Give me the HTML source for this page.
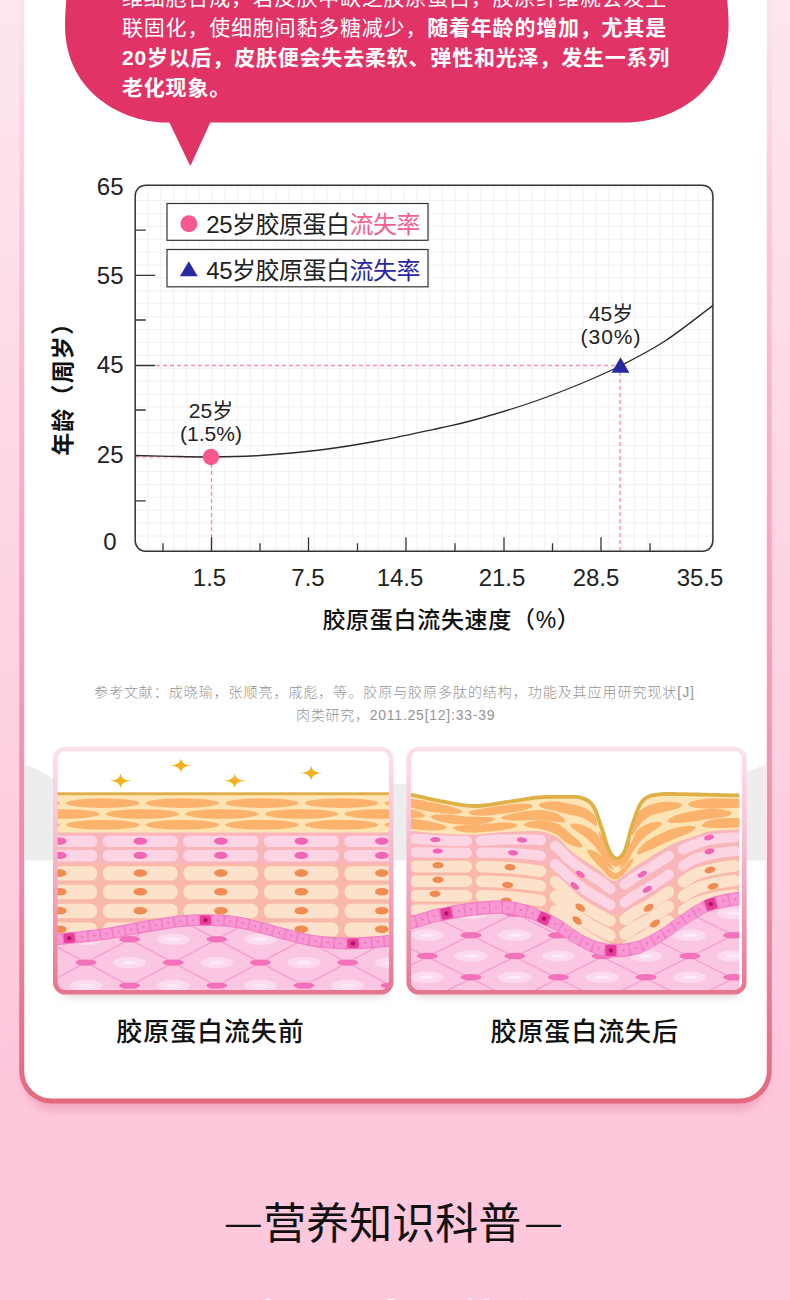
<!DOCTYPE html>
<html lang="zh-CN"><head><meta charset="utf-8"><title>胶原蛋白流失</title>
<style>
html,body{margin:0;padding:0}
body{width:790px;height:1300px;overflow:hidden;background:#fdc7dc;font-family:"Liberation Sans","Noto Sans CJK SC",sans-serif}
svg{display:block;font-family:"Liberation Sans","Noto Sans CJK SC",sans-serif}
text{font-family:"Liberation Sans","Noto Sans CJK SC",sans-serif}
</style></head><body>
<svg width="790" height="1300" viewBox="0 0 790 1300">
<defs>
<linearGradient id="bg" x1="0" y1="0" x2="0" y2="1300" gradientUnits="userSpaceOnUse">
<stop offset="0" stop-color="#fde6ef"/><stop offset="0.2" stop-color="#fddfe9"/><stop offset="0.41" stop-color="#fdd5e3"/><stop offset="0.846" stop-color="#fdc7dc"/><stop offset="1" stop-color="#fdc7dc"/>
</linearGradient>
<linearGradient id="bd" x1="0" y1="0" x2="0" y2="1103" gradientUnits="userSpaceOnUse">
<stop offset="0" stop-color="#fde3ed"/><stop offset="0.235" stop-color="#fcc3d6"/><stop offset="0.48" stop-color="#f9a8c0"/><stop offset="0.8" stop-color="#ee8aa4"/><stop offset="1" stop-color="#e4697f"/>
</linearGradient>
<pattern id="grid" x="134.700" y="187.200" width="12.8" height="12.9" patternUnits="userSpaceOnUse">
<path d="M0 0.5H12.8M0.5 0V12.9" stroke="#f2f0f2" stroke-width="1" fill="none"/>
</pattern>
<filter id="sh" x="-5%" y="-5%" width="110%" height="110%"><feGaussianBlur stdDeviation="4"/></filter>
<clipPath id="plot"><rect x="135.200" y="185.200" width="577.700" height="366.100" rx="10.5"/></clipPath>
</defs>
<rect width="790" height="1300" fill="url(#bg)"/>

<path d="M24 1000V1075A30 30 0 0 0 54 1105H737A30 30 0 0 0 767 1075V1000Z" fill="#e88aa4" opacity="0.55" filter="url(#sh)" transform="translate(0,5)"/>
<path d="M21.7 -10V1071A30 30 0 0 0 51.7 1101H739.3A30 30 0 0 0 769.3 1071V-10Z" fill="#fff" stroke="url(#bd)" stroke-width="5"/>
<path d="M24.5 765C36 767 50 777 62 784.200H728C740 777 754 767 766 765V860.600H24.5Z" fill="#ededed"/>
<path d="M67 -10C66 5 65 15 65 25C65 95 126 122.5 166 122.5H169.4L189.5 164.5Q190.3 166.3 191.1 164.5L210.3 122.5H625C669 122.5 728.6 95 728.6 25C728.6 15 727.5 5 726.6 -10Z" fill="#e23367"/>
<text x="122" y="5" font-size="21" fill="#fff" letter-spacing="0.8"><tspan font-weight="400">维细胞合成，若皮肤中缺乏胶原蛋白，胶原纤维就会发生</tspan></text>
<text x="122" y="35" font-size="21" fill="#fff" letter-spacing="0.8"><tspan font-weight="400">联固化，使细胞间黏多糖减少，</tspan><tspan font-weight="700">随着年龄的增加，尤其是</tspan></text>
<text x="122" y="65" font-size="21" fill="#fff" letter-spacing="0.8"><tspan font-weight="700">20岁以后，皮肤便会失去柔软、弹性和光泽，发生一系列</tspan></text>
<text x="122" y="95" font-size="21" fill="#fff" letter-spacing="0.8"><tspan font-weight="700">老化现象。</tspan></text>
<rect x="135.200" y="185.200" width="577.700" height="366.100" rx="10.5" fill="#fff"/>
<rect x="135.200" y="185.200" width="577.700" height="366.100" rx="10.5" fill="url(#grid)"/>
<path d="M135.500 456.800H211M156 365.500H620M211.500 457V551M620 365V551" stroke="#f58bb0" stroke-width="1.3" stroke-dasharray="4 3" fill="none"/>
<path d="M135.2 230.2H145.7M135.2 275.3H155.2M135.2 320H145.7M135.2 365.5H155.2M135.2 410H145.7M135.2 500.8H145.7M163 551.3V543.3M211.5 551.3V537.3M260 551.3V543.3M308.5 551.3V537.3M357.5 551.3V543.3M406 551.3V537.3M455 551.3V543.3M504 551.3V537.3M552.5 551.3V543.3M601 551.3V537.3M650 551.3V543.3" stroke="#333" stroke-width="1.3" fill="none"/>
<path d="M135.5 455.5C141.2 455.6 157.4 456.1 170 456.3C182.6 456.6 196.0 457.1 211 457C226.0 456.9 241.8 456.7 260 455.5C278.2 454.3 300.0 452.5 320 450C340.0 447.5 360.0 444.2 380 440.5C400.0 436.8 424.3 431.4 440 428C455.7 424.6 459.0 424.2 474 420C489.0 415.8 512.3 409.0 530 403C547.7 397.0 565.0 390.2 580 384C595.0 377.8 605.8 373.2 620 366C634.2 358.8 649.4 351.2 665 341C680.6 330.8 705.4 311.0 713.5 305" stroke="#2a2a2a" stroke-width="1.3" fill="none" clip-path="url(#plot)"/>
<rect x="135.200" y="185.200" width="577.700" height="366.100" rx="10.5" fill="none" stroke="#333" stroke-width="1.5"/>
<circle cx="211" cy="457" r="8.2" fill="#f8588c"/>
<path d="M620.500 357.300L629.400 372.800H611.600Z" fill="#2a27a3"/>
<rect x="167" y="203.500" width="261" height="36.800" fill="#fff" stroke="#333" stroke-width="1.2"/>
<rect x="167" y="249.500" width="261" height="37.300" fill="#fff" stroke="#333" stroke-width="1.2"/>
<circle cx="188.900" cy="223.700" r="8.5" fill="#f8588c"/>
<path d="M188.800 261.300L197.700 276.300H179.900Z" fill="#2a27a3"/>
<text x="206.300" y="233" font-size="24" fill="#222" letter-spacing="-0.5">25岁胶原蛋白<tspan fill="#f3608f">流失率</tspan></text>
<text x="206.300" y="278.500" font-size="24" fill="#222" letter-spacing="-0.5">45岁胶原蛋白<tspan fill="#2a27a3">流失率</tspan></text>
<text x="123.5" y="195" font-size="24" fill="#222" text-anchor="end">65</text>
<text x="123.5" y="284" font-size="24" fill="#222" text-anchor="end">55</text>
<text x="123.5" y="373" font-size="24" fill="#222" text-anchor="end">45</text>
<text x="123.5" y="463" font-size="24" fill="#222" text-anchor="end">25</text>
<text x="116.5" y="550" font-size="24" fill="#222" text-anchor="end">0</text>
<text x="209.5" y="586" font-size="24" fill="#222" text-anchor="middle">1.5</text>
<text x="308" y="586" font-size="24" fill="#222" text-anchor="middle">7.5</text>
<text x="400" y="586" font-size="24" fill="#222" text-anchor="middle">14.5</text>
<text x="502" y="586" font-size="24" fill="#222" text-anchor="middle">21.5</text>
<text x="596" y="586" font-size="24" fill="#222" text-anchor="middle">28.5</text>
<text x="700" y="586" font-size="24" fill="#222" text-anchor="middle">35.5</text>
<text x="211" y="418" font-size="21" fill="#222" text-anchor="middle">25岁</text>
<text x="211" y="441" font-size="21" fill="#222" text-anchor="middle">(1.5%)</text>
<text x="611" y="321" font-size="21" fill="#222" text-anchor="middle">45岁</text>
<text x="611" y="344" font-size="21" fill="#222" text-anchor="middle" letter-spacing="1">(30%)</text>
<text transform="translate(71.300,455.800) rotate(-90)" font-size="23" font-weight="700" fill="#111" letter-spacing="1.15">年龄（周岁）</text>
<text x="451.500" y="628" font-size="23" font-weight="500" letter-spacing="0.7" fill="#111" text-anchor="middle">胶原蛋白流失速度（%）</text>
<text x="94" y="697" font-size="14" font-weight="300" fill="#949494" textLength="600" lengthAdjust="spacing">参考文献：成晓瑜，张顺亮，戚彪，等。胶原与胶原多肽的结构，功能及其应用研究现状[J]</text>
<text x="296" y="719.500" font-size="14" font-weight="300" fill="#949494" textLength="198.500" lengthAdjust="spacing">肉类研究，2011.25[12]:33-39</text>
<defs><linearGradient id="pf" x1="0" y1="746" x2="0" y2="995" gradientUnits="userSpaceOnUse"><stop offset="0" stop-color="#fde2eb"/><stop offset="0.3" stop-color="#fbc4d6"/><stop offset="0.65" stop-color="#f29db4"/><stop offset="1" stop-color="#e5758f"/></linearGradient><filter id="sh2" x="-10%" y="-100%" width="120%" height="400%"><feGaussianBlur stdDeviation="4"/></filter></defs>
<rect x="62" y="985" width="324" height="12" rx="6" fill="#b9a0a8" opacity="0.45" filter="url(#sh2)"/><rect x="415" y="985" width="324" height="12" rx="6" fill="#b9a0a8" opacity="0.45" filter="url(#sh2)"/>
<clipPath id="c1"><rect x="55.3" y="749" width="335.9" height="242.5" rx="8"/></clipPath>
<g clip-path="url(#c1)">
<rect x="55.3" y="749" width="335.9" height="242.5" fill="#fff"/>
<path d="M120.6 773.5Q121.3 780.4 132.1 780.8Q121.3 781.2 120.6 788.1Q119.9 781.2 109.1 780.8Q119.9 780.4 120.6 773.5Z" fill="#f2b11f"/>
<path d="M180.9 758.3Q181.6 765.2 192.4 765.6Q181.6 766 180.9 772.9Q180.2 766 169.4 765.6Q180.2 765.2 180.9 758.3Z" fill="#f2b11f"/>
<path d="M234.7 773.5Q235.4 780.4 246.2 780.8Q235.4 781.2 234.7 788.1Q234 781.2 223.2 780.8Q234 780.4 234.7 773.5Z" fill="#f2b11f"/>
<path d="M311.2 765.7Q311.9 772.6 322.7 773Q311.9 773.4 311.2 780.3Q310.5 773.4 299.7 773Q310.5 772.6 311.2 765.7Z" fill="#f2b11f"/>
<rect x="55.3" y="794" width="335.9" height="40" fill="#fde4b4"/>
<rect x="55.3" y="792.3" width="335.9" height="2.9" fill="#e0b048"/>
<g fill="#fbb26c"><ellipse cx="23.2" cy="803.1" rx="36.9" ry="4.8"/><ellipse cx="102.8" cy="803.1" rx="36.9" ry="4.8"/><ellipse cx="182.4" cy="803.1" rx="36.9" ry="4.8"/><ellipse cx="262" cy="803.1" rx="36.9" ry="4.8"/><ellipse cx="341.6" cy="803.1" rx="36.9" ry="4.8"/><ellipse cx="421.2" cy="803.1" rx="36.9" ry="4.8"/><ellipse cx="62.8" cy="814" rx="36.9" ry="4.8"/><ellipse cx="142.4" cy="814" rx="36.9" ry="4.8"/><ellipse cx="222" cy="814" rx="36.9" ry="4.8"/><ellipse cx="301.6" cy="814" rx="36.9" ry="4.8"/><ellipse cx="381.2" cy="814" rx="36.9" ry="4.8"/><ellipse cx="460.8" cy="814" rx="36.9" ry="4.8"/><ellipse cx="23.2" cy="824.8" rx="36.9" ry="4.8"/><ellipse cx="102.8" cy="824.8" rx="36.9" ry="4.8"/><ellipse cx="182.4" cy="824.8" rx="36.9" ry="4.8"/><ellipse cx="262" cy="824.8" rx="36.9" ry="4.8"/><ellipse cx="341.6" cy="824.8" rx="36.9" ry="4.8"/><ellipse cx="421.2" cy="824.8" rx="36.9" ry="4.8"/></g>
<rect x="55.3" y="832.5" width="335.9" height="32" fill="#f9b6ba"/>
<g fill="#fdd4e4"><rect x="22.2" y="835.7" width="75.200" height="11.400" rx="5.5"/><rect x="102.7" y="835.7" width="75.200" height="11.400" rx="5.5"/><rect x="183.2" y="835.7" width="75.200" height="11.400" rx="5.5"/><rect x="263.7" y="835.7" width="75.200" height="11.400" rx="5.5"/><rect x="344.2" y="835.7" width="75.200" height="11.400" rx="5.5"/><rect x="424.7" y="835.7" width="75.200" height="11.400" rx="5.5"/><rect x="22.2" y="850" width="75.200" height="11.400" rx="5.5"/><rect x="102.7" y="850" width="75.200" height="11.400" rx="5.5"/><rect x="183.2" y="850" width="75.200" height="11.400" rx="5.5"/><rect x="263.7" y="850" width="75.200" height="11.400" rx="5.5"/><rect x="344.2" y="850" width="75.200" height="11.400" rx="5.5"/><rect x="424.7" y="850" width="75.200" height="11.400" rx="5.5"/></g><g fill="#f265b4"><ellipse cx="59.8" cy="841.1" rx="6.8" ry="3.7"/><ellipse cx="140.3" cy="841.1" rx="6.8" ry="3.7"/><ellipse cx="220.8" cy="841.1" rx="6.8" ry="3.7"/><ellipse cx="301.3" cy="841.1" rx="6.8" ry="3.7"/><ellipse cx="381.8" cy="841.1" rx="6.8" ry="3.7"/><ellipse cx="462.3" cy="841.1" rx="6.8" ry="3.7"/><ellipse cx="59.8" cy="855.4" rx="6.8" ry="3.7"/><ellipse cx="140.3" cy="855.4" rx="6.8" ry="3.7"/><ellipse cx="220.8" cy="855.4" rx="6.8" ry="3.7"/><ellipse cx="301.3" cy="855.4" rx="6.8" ry="3.7"/><ellipse cx="381.8" cy="855.4" rx="6.8" ry="3.7"/><ellipse cx="462.3" cy="855.4" rx="6.8" ry="3.7"/></g>
<rect x="55.3" y="864" width="335.9" height="85" fill="#f9b9a9"/>
<g fill="#fde2cb"><rect x="22.5" y="866.2" width="74.600" height="14.400" rx="6.5"/><rect x="103" y="866.2" width="74.600" height="14.400" rx="6.5"/><rect x="183.5" y="866.2" width="74.600" height="14.400" rx="6.5"/><rect x="264" y="866.2" width="74.600" height="14.400" rx="6.5"/><rect x="344.5" y="866.2" width="74.600" height="14.400" rx="6.5"/><rect x="425" y="866.2" width="74.600" height="14.400" rx="6.5"/><rect x="22.5" y="884.8" width="74.600" height="14.400" rx="6.5"/><rect x="103" y="884.8" width="74.600" height="14.400" rx="6.5"/><rect x="183.5" y="884.8" width="74.600" height="14.400" rx="6.5"/><rect x="264" y="884.8" width="74.600" height="14.400" rx="6.5"/><rect x="344.5" y="884.8" width="74.600" height="14.400" rx="6.5"/><rect x="425" y="884.8" width="74.600" height="14.400" rx="6.5"/><rect x="22.5" y="903.8" width="74.600" height="14.400" rx="6.5"/><rect x="103" y="903.8" width="74.600" height="14.400" rx="6.5"/><rect x="183.5" y="903.8" width="74.600" height="14.400" rx="6.5"/><rect x="264" y="903.8" width="74.600" height="14.400" rx="6.5"/><rect x="344.5" y="903.8" width="74.600" height="14.400" rx="6.5"/><rect x="425" y="903.8" width="74.600" height="14.400" rx="6.5"/><rect x="22.5" y="922.4" width="74.600" height="14.400" rx="6.5"/><rect x="103" y="922.4" width="74.600" height="14.400" rx="6.5"/><rect x="183.5" y="922.4" width="74.600" height="14.400" rx="6.5"/><rect x="264" y="922.4" width="74.600" height="14.400" rx="6.5"/><rect x="344.5" y="922.4" width="74.600" height="14.400" rx="6.5"/><rect x="425" y="922.4" width="74.600" height="14.400" rx="6.5"/></g><g fill="#f08b52"><ellipse cx="59.8" cy="873.1" rx="6.8" ry="3.8"/><ellipse cx="140.3" cy="873.1" rx="6.8" ry="3.8"/><ellipse cx="220.8" cy="873.1" rx="6.8" ry="3.8"/><ellipse cx="301.3" cy="873.1" rx="6.8" ry="3.8"/><ellipse cx="381.8" cy="873.1" rx="6.8" ry="3.8"/><ellipse cx="462.3" cy="873.1" rx="6.8" ry="3.8"/><ellipse cx="59.8" cy="891.7" rx="6.8" ry="3.8"/><ellipse cx="140.3" cy="891.7" rx="6.8" ry="3.8"/><ellipse cx="220.8" cy="891.7" rx="6.8" ry="3.8"/><ellipse cx="301.3" cy="891.7" rx="6.8" ry="3.8"/><ellipse cx="381.8" cy="891.7" rx="6.8" ry="3.8"/><ellipse cx="462.3" cy="891.7" rx="6.8" ry="3.8"/><ellipse cx="59.8" cy="910.7" rx="6.8" ry="3.8"/><ellipse cx="140.3" cy="910.7" rx="6.8" ry="3.8"/><ellipse cx="220.8" cy="910.7" rx="6.8" ry="3.8"/><ellipse cx="301.3" cy="910.7" rx="6.8" ry="3.8"/><ellipse cx="381.8" cy="910.7" rx="6.8" ry="3.8"/><ellipse cx="462.3" cy="910.7" rx="6.8" ry="3.8"/><ellipse cx="59.8" cy="929.3" rx="6.8" ry="3.8"/><ellipse cx="140.3" cy="929.3" rx="6.8" ry="3.8"/><ellipse cx="220.8" cy="929.3" rx="6.8" ry="3.8"/><ellipse cx="301.3" cy="929.3" rx="6.8" ry="3.8"/><ellipse cx="381.8" cy="929.3" rx="6.8" ry="3.8"/><ellipse cx="462.3" cy="929.3" rx="6.8" ry="3.8"/></g>
<path d="M53.3 933.9L56.3 933.6L59.3 933.2L62.3 932.9L65.3 932.6L68.3 932.3L71.3 932L74.4 931.7L77.4 931.4L80.4 931.1L83.4 930.7L86.4 930.4L89.4 930.1L92.4 929.7L95.4 929.4L98.4 929L101.4 928.6L104.4 928.2L107.4 927.7L110.5 927.2L113.5 926.7L116.5 926.1L119.5 925.6L122.5 925L125.5 924.4L128.5 923.9L131.5 923.3L134.5 922.7L137.5 922.2L140.5 921.6L143.5 921.1L146.5 920.6L149.6 920.1L152.6 919.6L155.6 919.1L158.6 918.6L161.6 918.1L164.6 917.6L167.6 917.1L170.6 916.7L173.6 916.2L176.6 915.8L179.6 915.5L182.6 915.2L185.7 915L188.7 914.7L191.7 914.5L194.7 914.3L197.7 914.2L200.7 914.2L203.7 914.2L206.7 914.2L209.7 914.3L212.7 914.3L215.7 914.4L218.7 914.5L221.7 914.6L224.8 914.8L227.8 915.1L230.8 915.5L233.8 915.9L236.8 916.3L239.8 916.8L242.8 917.3L245.8 918L248.8 918.7L251.8 919.4L254.8 920.2L257.8 920.9L260.8 921.7L263.9 922.5L266.9 923.3L269.9 924.1L272.9 925L275.9 925.9L278.9 926.7L281.9 927.5L284.9 928.3L287.9 929L290.9 929.8L293.9 930.5L296.9 931.3L300 932.1L303 932.8L306 933.5L309 934.1L312 934.7L315 935.2L318 935.6L321 935.9L324 936.2L327 936.5L330 936.8L333 937L336 937.3L339.1 937.4L342.1 937.5L345.1 937.6L348.1 937.6L351.1 937.5L354.1 937.5L357.1 937.4L360.1 937.2L363.1 937.1L366.1 936.9L369.1 936.7L372.1 936.6L375.2 936.3L378.2 936L381.2 935.7L384.2 935.4L387.2 935.1L390.2 934.8L393.2 934.6L393.2 993.5L53.3 993.5Z" fill="#fbc6e1" transform="translate(0,6)"/>
<clipPath id="c1d"><path d="M53.3 933.9L56.3 933.6L59.3 933.2L62.3 932.9L65.3 932.6L68.3 932.3L71.3 932L74.4 931.7L77.4 931.4L80.4 931.1L83.4 930.7L86.4 930.4L89.4 930.1L92.4 929.7L95.4 929.4L98.4 929L101.4 928.6L104.4 928.2L107.4 927.7L110.5 927.2L113.5 926.7L116.5 926.1L119.5 925.6L122.5 925L125.5 924.4L128.5 923.9L131.5 923.3L134.5 922.7L137.5 922.2L140.5 921.6L143.5 921.1L146.5 920.6L149.6 920.1L152.6 919.6L155.6 919.1L158.6 918.6L161.6 918.1L164.6 917.6L167.6 917.1L170.6 916.7L173.6 916.2L176.6 915.8L179.6 915.5L182.6 915.2L185.7 915L188.7 914.7L191.7 914.5L194.7 914.3L197.7 914.2L200.7 914.2L203.7 914.2L206.7 914.2L209.7 914.3L212.7 914.3L215.7 914.4L218.7 914.5L221.7 914.6L224.8 914.8L227.8 915.1L230.8 915.5L233.8 915.9L236.8 916.3L239.8 916.8L242.8 917.3L245.8 918L248.8 918.7L251.8 919.4L254.8 920.2L257.8 920.9L260.8 921.7L263.9 922.5L266.9 923.3L269.9 924.1L272.9 925L275.9 925.9L278.9 926.7L281.9 927.5L284.9 928.3L287.9 929L290.9 929.8L293.9 930.5L296.9 931.3L300 932.1L303 932.8L306 933.5L309 934.1L312 934.7L315 935.2L318 935.6L321 935.9L324 936.2L327 936.5L330 936.8L333 937L336 937.3L339.1 937.4L342.1 937.5L345.1 937.6L348.1 937.6L351.1 937.5L354.1 937.5L357.1 937.4L360.1 937.2L363.1 937.1L366.1 936.9L369.1 936.7L372.1 936.6L375.2 936.3L378.2 936L381.2 935.7L384.2 935.4L387.2 935.1L390.2 934.8L393.2 934.6L393.2 993.5L53.3 993.5Z" transform="translate(0,6)"/></clipPath>
<g clip-path="url(#c1d)"><path d="M35.3 1215.1L411.2 1416M35.3 663.5L411.2 462.6M35.3 1168.5L411.2 1369.4M35.3 710.1L411.2 509.2M35.3 1121.9L411.2 1322.8M35.3 756.7L411.2 555.8M35.3 1075.3L411.2 1276.2M35.3 803.3L411.2 602.4M35.3 1028.7L411.2 1229.6M35.3 849.9L411.2 649M35.3 982.1L411.2 1183M35.3 896.5L411.2 695.6M35.3 935.5L411.2 1136.4M35.3 943.1L411.2 742.2M35.3 888.9L411.2 1089.8M35.3 989.7L411.2 788.8M35.3 842.3L411.2 1043.2M35.3 1036.3L411.2 835.4M35.3 795.7L411.2 996.6M35.3 1082.9L411.2 882M35.3 749.1L411.2 950M35.3 1129.5L411.2 928.6M35.3 702.5L411.2 903.4M35.3 1176.1L411.2 975.2M35.3 655.9L411.2 856.8M35.3 1222.7L411.2 1021.8M35.3 609.3L411.2 810.2M35.3 1269.3L411.2 1068.4M35.3 562.7L411.2 763.6M35.3 1315.9L411.2 1115M35.3 516.1L411.2 717M35.3 1362.5L411.2 1161.6" stroke="#f7a3d3" stroke-width="1.6" fill="none"/>
<ellipse cx="42.4" cy="939.3" rx="10.5" ry="3.2" fill="#f271ba"/>
<ellipse cx="86" cy="939.3" rx="16.5" ry="5.8" fill="#fcdbee"/><ellipse cx="86" cy="939.3" rx="7" ry="1.8" fill="#feebf6"/>
<ellipse cx="129.6" cy="939.3" rx="10.5" ry="3.2" fill="#f271ba"/>
<ellipse cx="173.2" cy="939.3" rx="16.5" ry="5.8" fill="#fcdbee"/><ellipse cx="173.2" cy="939.3" rx="7" ry="1.8" fill="#feebf6"/>
<ellipse cx="216.8" cy="939.3" rx="10.5" ry="3.2" fill="#f271ba"/>
<ellipse cx="260.4" cy="939.3" rx="16.5" ry="5.8" fill="#fcdbee"/><ellipse cx="260.4" cy="939.3" rx="7" ry="1.8" fill="#feebf6"/>
<ellipse cx="304" cy="939.3" rx="10.5" ry="3.2" fill="#f271ba"/>
<ellipse cx="347.6" cy="939.3" rx="16.5" ry="5.8" fill="#fcdbee"/><ellipse cx="347.6" cy="939.3" rx="7" ry="1.8" fill="#feebf6"/>
<ellipse cx="391.2" cy="939.3" rx="10.5" ry="3.2" fill="#f271ba"/>
<ellipse cx="42.4" cy="962.6" rx="16.5" ry="5.8" fill="#fcdbee"/><ellipse cx="42.4" cy="962.6" rx="7" ry="1.8" fill="#feebf6"/>
<ellipse cx="86" cy="962.6" rx="10.5" ry="3.2" fill="#f271ba"/>
<ellipse cx="129.6" cy="962.6" rx="16.5" ry="5.8" fill="#fcdbee"/><ellipse cx="129.6" cy="962.6" rx="7" ry="1.8" fill="#feebf6"/>
<ellipse cx="173.2" cy="962.6" rx="10.5" ry="3.2" fill="#f271ba"/>
<ellipse cx="216.8" cy="962.6" rx="16.5" ry="5.8" fill="#fcdbee"/><ellipse cx="216.8" cy="962.6" rx="7" ry="1.8" fill="#feebf6"/>
<ellipse cx="260.4" cy="962.6" rx="10.5" ry="3.2" fill="#f271ba"/>
<ellipse cx="304" cy="962.6" rx="16.5" ry="5.8" fill="#fcdbee"/><ellipse cx="304" cy="962.6" rx="7" ry="1.8" fill="#feebf6"/>
<ellipse cx="347.6" cy="962.6" rx="10.5" ry="3.2" fill="#f271ba"/>
<ellipse cx="391.2" cy="962.6" rx="16.5" ry="5.8" fill="#fcdbee"/><ellipse cx="391.2" cy="962.6" rx="7" ry="1.8" fill="#feebf6"/>
<ellipse cx="42.4" cy="985.6" rx="10.5" ry="3.2" fill="#f271ba"/>
<ellipse cx="86" cy="985.6" rx="16.5" ry="5.8" fill="#fcdbee"/><ellipse cx="86" cy="985.6" rx="7" ry="1.8" fill="#feebf6"/>
<ellipse cx="129.6" cy="985.6" rx="10.5" ry="3.2" fill="#f271ba"/>
<ellipse cx="173.2" cy="985.6" rx="16.5" ry="5.8" fill="#fcdbee"/><ellipse cx="173.2" cy="985.6" rx="7" ry="1.8" fill="#feebf6"/>
<ellipse cx="216.8" cy="985.6" rx="10.5" ry="3.2" fill="#f271ba"/>
<ellipse cx="260.4" cy="985.6" rx="16.5" ry="5.8" fill="#fcdbee"/><ellipse cx="260.4" cy="985.6" rx="7" ry="1.8" fill="#feebf6"/>
<ellipse cx="304" cy="985.6" rx="10.5" ry="3.2" fill="#f271ba"/>
<ellipse cx="347.6" cy="985.6" rx="16.5" ry="5.8" fill="#fcdbee"/><ellipse cx="347.6" cy="985.6" rx="7" ry="1.8" fill="#feebf6"/>
<ellipse cx="391.2" cy="985.6" rx="10.5" ry="3.2" fill="#f271ba"/></g>
<path d="M53.3 933.9L56.3 933.6L59.3 933.2L62.3 932.9L65.3 932.6L68.3 932.3L71.3 932L74.4 931.7L77.4 931.4L80.4 931.1L83.4 930.7L86.4 930.4L89.4 930.1L92.4 929.7L95.4 929.4L98.4 929L101.4 928.6L104.4 928.2L107.4 927.7L110.5 927.2L113.5 926.7L116.5 926.1L119.5 925.6L122.5 925L125.5 924.4L128.5 923.9L131.5 923.3L134.5 922.7L137.5 922.2L140.5 921.6L143.5 921.1L146.5 920.6L149.6 920.1L152.6 919.6L155.6 919.1L158.6 918.6L161.6 918.1L164.6 917.6L167.6 917.1L170.6 916.7L173.6 916.2L176.6 915.8L179.6 915.5L182.6 915.2L185.7 915L188.7 914.7L191.7 914.5L194.7 914.3L197.7 914.2L200.7 914.2L203.7 914.2L206.7 914.2L209.7 914.3L212.7 914.3L215.7 914.4L218.7 914.5L221.7 914.6L224.8 914.8L227.8 915.1L230.8 915.5L233.8 915.9L236.8 916.3L239.8 916.8L242.8 917.3L245.8 918L248.8 918.7L251.8 919.4L254.8 920.2L257.8 920.9L260.8 921.7L263.9 922.5L266.9 923.3L269.9 924.1L272.9 925L275.9 925.9L278.9 926.7L281.9 927.5L284.9 928.3L287.9 929L290.9 929.8L293.9 930.5L296.9 931.3L300 932.1L303 932.8L306 933.5L309 934.1L312 934.7L315 935.2L318 935.6L321 935.9L324 936.2L327 936.5L330 936.8L333 937L336 937.3L339.1 937.4L342.1 937.5L345.1 937.6L348.1 937.6L351.1 937.5L354.1 937.5L357.1 937.4L360.1 937.2L363.1 937.1L366.1 936.9L369.1 936.7L372.1 936.6L375.2 936.3L378.2 936L381.2 935.7L384.2 935.4L387.2 935.1L390.2 934.8L393.2 934.6L393.2 946.4L390.2 946.6L387.2 946.9L384.2 947.2L381.2 947.5L378.2 947.8L375.2 948.1L372.1 948.4L369.1 948.5L366.1 948.7L363.1 948.9L360.1 949L357.1 949.2L354.1 949.3L351.1 949.3L348.1 949.4L345.1 949.4L342.1 949.3L339.1 949.2L336 949.1L333 948.8L330 948.6L327 948.3L324 948L321 947.7L318 947.4L315 947L312 946.5L309 945.9L306 945.3L303 944.6L300 943.9L296.9 943.1L293.9 942.3L290.9 941.6L287.9 940.8L284.9 940.1L281.9 939.3L278.9 938.5L275.9 937.7L272.9 936.8L269.9 935.9L266.9 935.1L263.9 934.3L260.8 933.5L257.8 932.7L254.8 932L251.8 931.2L248.8 930.5L245.8 929.8L242.8 929.1L239.8 928.6L236.8 928.1L233.8 927.7L230.8 927.3L227.8 926.9L224.8 926.6L221.7 926.4L218.7 926.3L215.7 926.2L212.7 926.1L209.7 926.1L206.7 926L203.7 926L200.7 926L197.7 926L194.7 926.1L191.7 926.3L188.7 926.5L185.7 926.8L182.6 927L179.6 927.3L176.6 927.6L173.6 928L170.6 928.5L167.6 928.9L164.6 929.4L161.6 929.9L158.6 930.4L155.6 930.9L152.6 931.4L149.6 931.9L146.5 932.4L143.5 932.9L140.5 933.4L137.5 934L134.5 934.5L131.5 935.1L128.5 935.7L125.5 936.2L122.5 936.8L119.5 937.4L116.5 937.9L113.5 938.5L110.5 939L107.4 939.5L104.4 940L101.4 940.4L98.4 940.8L95.4 941.2L92.4 941.5L89.4 941.9L86.4 942.2L83.4 942.5L80.4 942.9L77.4 943.2L74.4 943.5L71.3 943.8L68.3 944.1L65.3 944.4L62.3 944.7L59.3 945L56.3 945.4L53.3 945.7Z" fill="#f27fc4"/>
<rect x="-5.5" y="-4.7" width="10.9" height="9.4" rx="1.5" fill="#f798d4" transform="translate(44.5,940.9) rotate(-6.9)"/>
<circle cx="44.5" cy="940.9" r="1.1" fill="#f271ba"/>
<rect x="-5.5" y="-4.7" width="10.9" height="9.4" rx="1.5" fill="#f798d4" transform="translate(56.9,939.4) rotate(-6.5)"/>
<circle cx="56.9" cy="939.4" r="1.1" fill="#f271ba"/>
<rect x="-5.5" y="-4.7" width="10.9" height="9.4" rx="1.5" fill="#e63e98" transform="translate(69.3,938.1) rotate(-5.8)"/>
<circle cx="69.3" cy="938.1" r="2.2" fill="#b5106c"/>
<rect x="-5.5" y="-4.7" width="10.9" height="9.4" rx="1.5" fill="#f798d4" transform="translate(81.8,936.8) rotate(-5.9)"/>
<circle cx="81.8" cy="936.8" r="1.1" fill="#f271ba"/>
<rect x="-5.5" y="-4.7" width="10.9" height="9.4" rx="1.5" fill="#f798d4" transform="translate(94.2,935.4) rotate(-6.9)"/>
<circle cx="94.2" cy="935.4" r="1.1" fill="#f271ba"/>
<rect x="-5.5" y="-4.7" width="10.9" height="9.4" rx="1.5" fill="#f798d4" transform="translate(106.6,933.7) rotate(-9)"/>
<circle cx="106.6" cy="933.7" r="1.1" fill="#f271ba"/>
<rect x="-5.5" y="-4.7" width="10.9" height="9.4" rx="1.5" fill="#f798d4" transform="translate(118.9,931.6) rotate(-10.5)"/>
<circle cx="118.9" cy="931.6" r="1.1" fill="#f271ba"/>
<rect x="-5.5" y="-4.7" width="10.9" height="9.4" rx="1.5" fill="#f798d4" transform="translate(131.2,929.3) rotate(-10.8)"/>
<circle cx="131.2" cy="929.3" r="1.1" fill="#f271ba"/>
<rect x="-5.5" y="-4.7" width="10.9" height="9.4" rx="1.5" fill="#f798d4" transform="translate(143.5,927) rotate(-9.9)"/>
<circle cx="143.5" cy="927" r="1.1" fill="#f271ba"/>
<rect x="-5.5" y="-4.7" width="10.9" height="9.4" rx="1.5" fill="#f798d4" transform="translate(155.8,925) rotate(-9.4)"/>
<circle cx="155.8" cy="925" r="1.1" fill="#f271ba"/>
<rect x="-5.5" y="-4.7" width="10.9" height="9.4" rx="1.5" fill="#f798d4" transform="translate(168.1,922.9) rotate(-8.8)"/>
<circle cx="168.1" cy="922.9" r="1.1" fill="#f271ba"/>
<rect x="-5.5" y="-4.7" width="10.9" height="9.4" rx="1.5" fill="#f798d4" transform="translate(180.5,921.3) rotate(-5.8)"/>
<circle cx="180.5" cy="921.3" r="1.1" fill="#f271ba"/>
<rect x="-5.5" y="-4.7" width="10.9" height="9.4" rx="1.5" fill="#f798d4" transform="translate(193,920.3) rotate(-3.4)"/>
<circle cx="193" cy="920.3" r="1.1" fill="#f271ba"/>
<rect x="-5.5" y="-4.7" width="10.9" height="9.4" rx="1.5" fill="#e63e98" transform="translate(205.5,920.1) rotate(0.5)"/>
<circle cx="205.5" cy="920.1" r="2.2" fill="#b5106c"/>
<rect x="-5.5" y="-4.7" width="10.9" height="9.4" rx="1.5" fill="#f798d4" transform="translate(218,920.3) rotate(1.4)"/>
<circle cx="218" cy="920.3" r="1.1" fill="#f271ba"/>
<rect x="-5.5" y="-4.7" width="10.9" height="9.4" rx="1.5" fill="#f798d4" transform="translate(230.4,921.3) rotate(7.5)"/>
<circle cx="230.4" cy="921.3" r="1.1" fill="#f271ba"/>
<rect x="-5.5" y="-4.7" width="10.9" height="9.4" rx="1.5" fill="#f798d4" transform="translate(242.8,923.2) rotate(11.1)"/>
<circle cx="242.8" cy="923.2" r="1.1" fill="#f271ba"/>
<rect x="-5.5" y="-4.7" width="10.9" height="9.4" rx="1.5" fill="#f798d4" transform="translate(255,926.1) rotate(14.5)"/>
<circle cx="255" cy="926.1" r="1.1" fill="#f271ba"/>
<rect x="-5.5" y="-4.7" width="10.9" height="9.4" rx="1.5" fill="#f798d4" transform="translate(267.1,929.2) rotate(15.5)"/>
<circle cx="267.1" cy="929.2" r="1.1" fill="#f271ba"/>
<rect x="-5.5" y="-4.7" width="10.9" height="9.4" rx="1.5" fill="#f798d4" transform="translate(279.1,932.7) rotate(15.4)"/>
<circle cx="279.1" cy="932.7" r="1.1" fill="#f271ba"/>
<rect x="-5.5" y="-4.7" width="10.9" height="9.4" rx="1.5" fill="#f798d4" transform="translate(291.2,935.7) rotate(14.3)"/>
<circle cx="291.2" cy="935.7" r="1.1" fill="#f271ba"/>
<rect x="-5.5" y="-4.7" width="10.9" height="9.4" rx="1.5" fill="#f798d4" transform="translate(303.3,938.8) rotate(13)"/>
<circle cx="303.3" cy="938.8" r="1.1" fill="#f271ba"/>
<rect x="-5.5" y="-4.7" width="10.9" height="9.4" rx="1.5" fill="#f798d4" transform="translate(315.6,941.1) rotate(8.4)"/>
<circle cx="315.6" cy="941.1" r="1.1" fill="#f271ba"/>
<rect x="-5.5" y="-4.7" width="10.9" height="9.4" rx="1.5" fill="#f798d4" transform="translate(328,942.5) rotate(5.4)"/>
<circle cx="328" cy="942.5" r="1.1" fill="#f271ba"/>
<rect x="-5.5" y="-4.7" width="10.9" height="9.4" rx="1.5" fill="#f798d4" transform="translate(340.5,943.4) rotate(2.3)"/>
<circle cx="340.5" cy="943.4" r="1.1" fill="#f271ba"/>
<rect x="-5.5" y="-4.7" width="10.9" height="9.4" rx="1.5" fill="#e63e98" transform="translate(353,943.4) rotate(-1.6)"/>
<circle cx="353" cy="943.4" r="2.2" fill="#b5106c"/>
<rect x="-5.5" y="-4.7" width="10.9" height="9.4" rx="1.5" fill="#f798d4" transform="translate(365.5,942.8) rotate(-3.1)"/>
<circle cx="365.5" cy="942.8" r="1.1" fill="#f271ba"/>
<rect x="-5.5" y="-4.7" width="10.9" height="9.4" rx="1.5" fill="#f798d4" transform="translate(377.9,941.9) rotate(-5.9)"/>
<circle cx="377.9" cy="941.9" r="1.1" fill="#f271ba"/>
<rect x="-5.5" y="-4.7" width="10.9" height="9.4" rx="1.5" fill="#f798d4" transform="translate(390.4,940.7) rotate(-4.9)"/>
<circle cx="390.4" cy="940.7" r="1.1" fill="#f271ba"/>
<rect x="-5.5" y="-4.7" width="10.9" height="9.4" rx="1.5" fill="#f798d4" transform="translate(402.8,939.7) rotate(-4.4)"/>
<circle cx="402.8" cy="939.7" r="1.1" fill="#f271ba"/>
</g>
<rect x="55.3" y="749" width="335.9" height="243.2" rx="10" fill="none" stroke="url(#pf)" stroke-width="4.6"/>
<clipPath id="c2"><rect x="408.7" y="749" width="335.6" height="242.5" rx="8"/></clipPath>
<g clip-path="url(#c2)">
<rect x="408.7" y="749" width="335.6" height="242.5" fill="#fff"/>
<path d="M406.7 857L408.7 857L410.7 857L412.7 857L414.7 857L416.7 857L418.7 857L420.7 857L422.7 857L424.7 857L426.7 857L428.8 857L430.8 857L432.8 857L434.8 857L436.8 857L438.8 857L440.8 857L442.8 857L444.8 857L446.8 857L448.8 857L450.8 857L452.8 857L454.8 857L456.8 857L458.8 857L460.8 857L462.8 857L464.8 857L466.8 857L468.8 857L470.9 857L472.9 857L474.9 857L476.9 857L478.9 857L480.9 857L482.9 857L484.9 857.1L486.9 857.1L488.9 857.2L490.9 857.2L492.9 857.3L494.9 857.4L496.9 857.5L498.9 857.5L500.9 857.6L502.9 857.8L504.9 857.9L506.9 858L508.9 858.2L511 858.3L513 858.5L515 858.6L517 858.8L519 859L521 859.2L523 859.4L525 859.7L527 859.9L529 860.1L531 860.4L533 860.7L535 861L537 861.3L539 861.6L541 861.9L543 862.3L545 863.1L547 864.4L549 865.9L551 867.6L553.1 869.5L555.1 871.4L557.1 873.4L559.1 875.2L561.1 876.9L563.1 878.7L565.1 880.5L567.1 882.5L569.1 884.4L571.1 886.3L573.1 888.2L575.1 890L577.1 891.8L579.1 893.3L581.1 894.8L583.1 896.2L585.1 897.5L587.1 898.8L589.1 900.1L591.1 901.3L593.1 902.4L595.2 903.5L597.2 904.6L599.2 905.6L601.2 906.6L603.2 907.7L605.2 908.8L607.2 909.9L609.2 910.9L611.2 911.7L613.2 912.4L615.2 912.9L617.2 913L619.2 912.7L621.2 912L623.2 911L625.2 909.8L627.2 908.4L629.2 906.9L631.2 905.4L633.2 904L635.2 902.9L637.3 901.8L639.3 900.7L641.3 899.7L643.3 898.6L645.3 897.5L647.3 896.4L649.3 895.2L651.3 894L653.3 892.7L655.3 891.4L657.3 890L659.3 888.7L661.3 887.3L663.3 885.9L665.3 884.5L667.3 883.1L669.3 881.7L671.3 880.4L673.3 879.1L675.3 877.8L677.4 876.5L679.4 875.1L681.4 873.7L683.4 872.3L685.4 870.9L687.4 869.5L689.4 868.2L691.4 867L693.4 865.8L695.4 864.8L697.4 863.9L699.4 863.2L701.4 862.6L703.4 862L705.4 861.5L707.4 861L709.4 860.5L711.4 860L713.4 859.6L715.4 859.2L717.4 858.8L719.5 858.4L721.5 858L723.5 857.7L725.5 857.4L727.5 857.1L729.5 856.8L731.5 856.6L733.5 856.4L735.5 856.2L737.5 856.1L739.5 855.9L739.5 993.5L737.5 993.5L735.5 993.5L733.5 993.5L731.5 993.5L729.5 993.5L727.5 993.5L725.5 993.5L723.5 993.5L721.5 993.5L719.5 993.5L717.4 993.5L715.4 993.5L713.4 993.5L711.4 993.5L709.4 993.5L707.4 993.5L705.4 993.5L703.4 993.5L701.4 993.5L699.4 993.5L697.4 993.5L695.4 993.5L693.4 993.5L691.4 993.5L689.4 993.5L687.4 993.5L685.4 993.5L683.4 993.5L681.4 993.5L679.4 993.5L677.4 993.5L675.3 993.5L673.3 993.5L671.3 993.5L669.3 993.5L667.3 993.5L665.3 993.5L663.3 993.5L661.3 993.5L659.3 993.5L657.3 993.5L655.3 993.5L653.3 993.5L651.3 993.5L649.3 993.5L647.3 993.5L645.3 993.5L643.3 993.5L641.3 993.5L639.3 993.5L637.3 993.5L635.2 993.5L633.2 993.5L631.2 993.5L629.2 993.5L627.2 993.5L625.2 993.5L623.2 993.5L621.2 993.5L619.2 993.5L617.2 993.5L615.2 993.5L613.2 993.5L611.2 993.5L609.2 993.5L607.2 993.5L605.2 993.5L603.2 993.5L601.2 993.5L599.2 993.5L597.2 993.5L595.2 993.5L593.1 993.5L591.1 993.5L589.1 993.5L587.1 993.5L585.1 993.5L583.1 993.5L581.1 993.5L579.1 993.5L577.1 993.5L575.1 993.5L573.1 993.5L571.1 993.5L569.1 993.5L567.1 993.5L565.1 993.5L563.1 993.5L561.1 993.5L559.1 993.5L557.1 993.5L555.1 993.5L553.1 993.5L551 993.5L549 993.5L547 993.5L545 993.5L543 993.5L541 993.5L539 993.5L537 993.5L535 993.5L533 993.5L531 993.5L529 993.5L527 993.5L525 993.5L523 993.5L521 993.5L519 993.5L517 993.5L515 993.5L513 993.5L511 993.5L508.9 993.5L506.9 993.5L504.9 993.5L502.9 993.5L500.9 993.5L498.9 993.5L496.9 993.5L494.9 993.5L492.9 993.5L490.9 993.5L488.9 993.5L486.9 993.5L484.9 993.5L482.9 993.5L480.9 993.5L478.9 993.5L476.9 993.5L474.9 993.5L472.9 993.5L470.9 993.5L468.8 993.5L466.8 993.5L464.8 993.5L462.8 993.5L460.8 993.5L458.8 993.5L456.8 993.5L454.8 993.5L452.8 993.5L450.8 993.5L448.8 993.5L446.8 993.5L444.8 993.5L442.8 993.5L440.8 993.5L438.8 993.5L436.8 993.5L434.8 993.5L432.8 993.5L430.8 993.5L428.8 993.5L426.7 993.5L424.7 993.5L422.7 993.5L420.7 993.5L418.7 993.5L416.7 993.5L414.7 993.5L412.7 993.5L410.7 993.5L408.7 993.5L406.7 993.5Z" fill="#f9b9a9"/>
<path d="M415.6 866.6L418.2 866.6L420.7 866.6L423.2 866.6L425.8 866.6L428.3 866.6L430.9 866.6L433.4 866.6L435.9 866.6L438.5 866.6L441 866.6L443.5 866.6L446.1 866.6L448.6 866.6L451.1 866.6L453.7 866.6L456.2 866.6L458.8 866.6L461.3 866.6L463.8 866.6L466.4 866.6" stroke="#fde2cb" stroke-width="11.6" stroke-linecap="round" stroke-linejoin="round" fill="none"/>
<path d="M481.6 866.6L484.2 866.7L486.7 866.7L489.3 866.8L491.9 866.9L494.4 866.9L497 867.1L499.5 867.2L502.1 867.3L504.6 867.5L507.2 867.6L509.7 867.8L512.3 868L514.8 868.2L517.4 868.5L519.9 868.7L522.5 869L525 869.3L527.6 869.6L530.1 869.9L532.7 870.2L535.3 870.6L537.8 871L540.4 871.4" stroke="#fde2cb" stroke-width="11.6" stroke-linecap="round" stroke-linejoin="round" fill="none"/>
<path d="M555.6 881.6L558.2 884.1L560.8 886.3L563.4 888.6L566 891L568.5 893.5L571.1 896L573.7 898.4L576.3 900.7L578.9 902.8L581.5 904.6L584 906.4L586.6 908.1L589.2 909.7L591.8 911.2L594.4 912.7L597 914.1L599.5 915.4L602.1 916.7L604.7 918.1L607.3 919.5L609.9 920.8" stroke="#fde2cb" stroke-width="11.6" stroke-linecap="round" stroke-linejoin="round" fill="none"/>
<path d="M625.1 919.4L627.7 917.6L630.2 915.7L632.8 914L635.3 912.4L637.9 911.1L640.4 909.7L642.9 908.4L645.5 907L648 905.6L650.6 904L653.1 902.4L655.6 900.8L658.2 899L660.7 897.3L663.3 895.5L665.8 893.7L668.4 892" stroke="#fde2cb" stroke-width="11.6" stroke-linecap="round" stroke-linejoin="round" fill="none"/>
<path d="M683.6 881.7L686.2 879.9L688.7 878.2L691.2 876.6L693.8 875.2L696.3 874L698.9 873L701.4 872.2L703.9 871.5L706.5 870.8L709 870.2L711.5 869.6L714.1 869L716.6 868.5L719.1 868L721.7 867.6L724.2 867.2L726.8 866.8L729.3 866.5L731.8 866.2L734.4 865.9" stroke="#fde2cb" stroke-width="11.6" stroke-linecap="round" stroke-linejoin="round" fill="none"/>
<path d="M415.6 881.2L418.2 881.2L420.7 881.2L423.2 881.2L425.8 881.2L428.3 881.2L430.9 881.2L433.4 881.2L435.9 881.2L438.5 881.2L441 881.2L443.5 881.2L446.1 881.2L448.6 881.2L451.1 881.2L453.7 881.2L456.2 881.2L458.8 881.2L461.3 881.2L463.8 881.2L466.4 881.2" stroke="#fde2cb" stroke-width="11.6" stroke-linecap="round" stroke-linejoin="round" fill="none"/>
<path d="M481.6 881.2L484.2 881.3L486.7 881.3L489.3 881.4L491.9 881.5L494.4 881.5L497 881.7L499.5 881.8L502.1 881.9L504.6 882.1L507.2 882.2L509.7 882.4L512.3 882.6L514.8 882.8L517.4 883.1L519.9 883.3L522.5 883.6L525 883.9L527.6 884.2L530.1 884.5L532.7 884.8L535.3 885.2L537.8 885.6L540.4 886" stroke="#fde2cb" stroke-width="11.6" stroke-linecap="round" stroke-linejoin="round" fill="none"/>
<path d="M555.6 896.2L558.2 898.7L560.8 900.9L563.4 903.2L566 905.6L568.5 908.1L571.1 910.6L573.7 913L576.3 915.3L578.9 917.4L581.5 919.2L584 921L586.6 922.7L589.2 924.3L591.8 925.8L594.4 927.3L597 928.7L599.5 930L602.1 931.3L604.7 932.7L607.3 934.1L609.9 935.4" stroke="#fde2cb" stroke-width="11.6" stroke-linecap="round" stroke-linejoin="round" fill="none"/>
<path d="M625.1 934L627.7 932.2L630.2 930.3L632.8 928.6L635.3 927L637.9 925.7L640.4 924.3L642.9 923L645.5 921.6L648 920.2L650.6 918.6L653.1 917L655.6 915.4L658.2 913.6L660.7 911.9L663.3 910.1L665.8 908.3L668.4 906.6" stroke="#fde2cb" stroke-width="11.6" stroke-linecap="round" stroke-linejoin="round" fill="none"/>
<path d="M683.6 896.3L686.2 894.5L688.7 892.8L691.2 891.2L693.8 889.8L696.3 888.6L698.9 887.6L701.4 886.8L703.9 886.1L706.5 885.4L709 884.8L711.5 884.2L714.1 883.6L716.6 883.1L719.1 882.6L721.7 882.2L724.2 881.8L726.8 881.4L729.3 881.1L731.8 880.8L734.4 880.5" stroke="#fde2cb" stroke-width="11.6" stroke-linecap="round" stroke-linejoin="round" fill="none"/>
<path d="M415.6 895.8L418.2 895.8L420.7 895.8L423.2 895.8L425.8 895.8L428.3 895.8L430.9 895.8L433.4 895.8L435.9 895.8L438.5 895.8L441 895.8L443.5 895.8L446.1 895.8L448.6 895.8L451.1 895.8L453.7 895.8L456.2 895.8L458.8 895.8L461.3 895.8L463.8 895.8L466.4 895.8" stroke="#fde2cb" stroke-width="11.6" stroke-linecap="round" stroke-linejoin="round" fill="none"/>
<path d="M481.6 895.8L484.2 895.9L486.7 895.9L489.3 896L491.9 896.1L494.4 896.1L497 896.3L499.5 896.4L502.1 896.5L504.6 896.7L507.2 896.8L509.7 897L512.3 897.2L514.8 897.4L517.4 897.7L519.9 897.9L522.5 898.2L525 898.5L527.6 898.8L530.1 899.1L532.7 899.4L535.3 899.8L537.8 900.2L540.4 900.6" stroke="#fde2cb" stroke-width="11.6" stroke-linecap="round" stroke-linejoin="round" fill="none"/>
<path d="M555.6 910.8L558.2 913.3L560.8 915.5L563.4 917.8L566 920.2L568.5 922.7L571.1 925.2L573.7 927.6L576.3 929.9L578.9 932L581.5 933.8L584 935.6L586.6 937.3L589.2 938.9L591.8 940.4L594.4 941.9L597 943.3L599.5 944.6L602.1 945.9L604.7 947.3L607.3 948.7L609.9 950" stroke="#fde2cb" stroke-width="11.6" stroke-linecap="round" stroke-linejoin="round" fill="none"/>
<path d="M625.1 948.6L627.7 946.8L630.2 944.9L632.8 943.2L635.3 941.6L637.9 940.3L640.4 938.9L642.9 937.6L645.5 936.2L648 934.8L650.6 933.2L653.1 931.6L655.6 930L658.2 928.2L660.7 926.5L663.3 924.7L665.8 922.9L668.4 921.2" stroke="#fde2cb" stroke-width="11.6" stroke-linecap="round" stroke-linejoin="round" fill="none"/>
<path d="M683.6 910.9L686.2 909.1L688.7 907.4L691.2 905.8L693.8 904.4L696.3 903.2L698.9 902.2L701.4 901.4L703.9 900.7L706.5 900L709 899.4L711.5 898.8L714.1 898.2L716.6 897.7L719.1 897.2L721.7 896.8L724.2 896.4L726.8 896L729.3 895.7L731.8 895.4L734.4 895.1" stroke="#fde2cb" stroke-width="11.6" stroke-linecap="round" stroke-linejoin="round" fill="none"/>
<path d="M415.6 910.4L418.2 910.4L420.7 910.4L423.2 910.4L425.8 910.4L428.3 910.4L430.9 910.4L433.4 910.4L435.9 910.4L438.5 910.4L441 910.4L443.5 910.4L446.1 910.4L448.6 910.4L451.1 910.4L453.7 910.4L456.2 910.4L458.8 910.4L461.3 910.4L463.8 910.4L466.4 910.4" stroke="#fde2cb" stroke-width="11.6" stroke-linecap="round" stroke-linejoin="round" fill="none"/>
<path d="M481.6 910.4L484.2 910.5L486.7 910.5L489.3 910.6L491.9 910.7L494.4 910.7L497 910.9L499.5 911L502.1 911.1L504.6 911.3L507.2 911.4L509.7 911.6L512.3 911.8L514.8 912L517.4 912.3L519.9 912.5L522.5 912.8L525 913.1L527.6 913.4L530.1 913.7L532.7 914L535.3 914.4L537.8 914.8L540.4 915.2" stroke="#fde2cb" stroke-width="11.6" stroke-linecap="round" stroke-linejoin="round" fill="none"/>
<path d="M555.6 925.4L558.2 927.9L560.8 930.1L563.4 932.4L566 934.8L568.5 937.3L571.1 939.8L573.7 942.2L576.3 944.5L578.9 946.6L581.5 948.4L584 950.2L586.6 951.9L589.2 953.5L591.8 955L594.4 956.5L597 957.9L599.5 959.2L602.1 960.5L604.7 961.9L607.3 963.3L609.9 964.6" stroke="#fde2cb" stroke-width="11.6" stroke-linecap="round" stroke-linejoin="round" fill="none"/>
<path d="M625.1 963.2L627.7 961.4L630.2 959.5L632.8 957.8L635.3 956.2L637.9 954.9L640.4 953.5L642.9 952.2L645.5 950.8L648 949.4L650.6 947.8L653.1 946.2L655.6 944.6L658.2 942.8L660.7 941.1L663.3 939.3L665.8 937.5L668.4 935.8" stroke="#fde2cb" stroke-width="11.6" stroke-linecap="round" stroke-linejoin="round" fill="none"/>
<path d="M683.6 925.5L686.2 923.7L688.7 922L691.2 920.4L693.8 919L696.3 917.8L698.9 916.8L701.4 916L703.9 915.3L706.5 914.6L709 914L711.5 913.4L714.1 912.8L716.6 912.3L719.1 911.8L721.7 911.4L724.2 911L726.8 910.6L729.3 910.3L731.8 910L734.4 909.7" stroke="#fde2cb" stroke-width="11.6" stroke-linecap="round" stroke-linejoin="round" fill="none"/>
<path d="M415.6 925L418.2 925L420.7 925L423.2 925L425.8 925L428.3 925L430.9 925L433.4 925L435.9 925L438.5 925L441 925L443.5 925L446.1 925L448.6 925L451.1 925L453.7 925L456.2 925L458.8 925L461.3 925L463.8 925L466.4 925" stroke="#fde2cb" stroke-width="11.6" stroke-linecap="round" stroke-linejoin="round" fill="none"/>
<path d="M481.6 925L484.2 925.1L486.7 925.1L489.3 925.2L491.9 925.3L494.4 925.3L497 925.5L499.5 925.6L502.1 925.7L504.6 925.9L507.2 926L509.7 926.2L512.3 926.4L514.8 926.6L517.4 926.9L519.9 927.1L522.5 927.4L525 927.7L527.6 928L530.1 928.3L532.7 928.6L535.3 929L537.8 929.4L540.4 929.8" stroke="#fde2cb" stroke-width="11.6" stroke-linecap="round" stroke-linejoin="round" fill="none"/>
<path d="M555.6 940L558.2 942.5L560.8 944.7L563.4 947L566 949.4L568.5 951.9L571.1 954.4L573.7 956.8L576.3 959.1L578.9 961.2L581.5 963L584 964.8L586.6 966.5L589.2 968.1L591.8 969.6L594.4 971.1L597 972.5L599.5 973.8L602.1 975.1L604.7 976.5L607.3 977.9L609.9 979.2" stroke="#fde2cb" stroke-width="11.6" stroke-linecap="round" stroke-linejoin="round" fill="none"/>
<path d="M625.1 977.8L627.7 976L630.2 974.1L632.8 972.4L635.3 970.8L637.9 969.5L640.4 968.1L642.9 966.8L645.5 965.4L648 964L650.6 962.4L653.1 960.8L655.6 959.2L658.2 957.4L660.7 955.7L663.3 953.9L665.8 952.1L668.4 950.4" stroke="#fde2cb" stroke-width="11.6" stroke-linecap="round" stroke-linejoin="round" fill="none"/>
<path d="M683.6 940.1L686.2 938.3L688.7 936.6L691.2 935L693.8 933.6L696.3 932.4L698.9 931.4L701.4 930.6L703.9 929.9L706.5 929.2L709 928.6L711.5 928L714.1 927.4L716.6 926.9L719.1 926.4L721.7 926L724.2 925.6L726.8 925.2L729.3 924.9L731.8 924.6L734.4 924.3" stroke="#fde2cb" stroke-width="11.6" stroke-linecap="round" stroke-linejoin="round" fill="none"/>
<g fill="#f08b52"><ellipse cx="438" cy="865.3" rx="5.6" ry="3.2" transform="rotate(0 438 865.3)"/><ellipse cx="438" cy="879.7" rx="5.6" ry="3.2" transform="rotate(0 438 879.7)"/><ellipse cx="435" cy="893.7" rx="5.6" ry="3.2" transform="rotate(0 435 893.7)"/><ellipse cx="510" cy="867.3" rx="5.6" ry="3.2" transform="rotate(4.3 510 867.3)"/><ellipse cx="507.6" cy="885" rx="5.6" ry="3.2" transform="rotate(4 507.6 885)"/><ellipse cx="506.3" cy="900.8" rx="5.6" ry="3.2" transform="rotate(3.8 506.3 900.8)"/><ellipse cx="580.3" cy="907.6" rx="5.6" ry="3.2" transform="rotate(35.7 580.3 907.6)"/><ellipse cx="577.2" cy="920.5" rx="5.6" ry="3.2" transform="rotate(39.5 577.2 920.5)"/><ellipse cx="576" cy="934.2" rx="5.6" ry="3.2" transform="rotate(40.8 576 934.2)"/><ellipse cx="648.6" cy="907.8" rx="5.6" ry="3.2" transform="rotate(-30.8 648.6 907.8)"/><ellipse cx="655" cy="923.5" rx="5.6" ry="3.2" transform="rotate(-33.6 655 923.5)"/><ellipse cx="657.5" cy="938.2" rx="5.6" ry="3.2" transform="rotate(-34.3 657.5 938.2)"/><ellipse cx="710" cy="870" rx="5.6" ry="3.2" transform="rotate(-13.3 710 870)"/><ellipse cx="713" cy="886.3" rx="5.6" ry="3.2" transform="rotate(-12.4 713 886.3)"/><ellipse cx="715.7" cy="902" rx="5.6" ry="3.2" transform="rotate(-11.6 715.7 902)"/></g>
<path d="M406.7 828.8L408.7 828.9L410.7 829L412.7 829.2L414.7 829.3L416.7 829.5L418.7 829.7L420.7 829.9L422.7 830.1L424.7 830.3L426.7 830.4L428.8 830.6L430.8 830.8L432.8 831L434.8 831.2L436.8 831.3L438.8 831.4L440.8 831.5L442.8 831.7L444.8 831.8L446.8 831.9L448.8 832L450.8 832.1L452.8 832.2L454.8 832.3L456.8 832.4L458.8 832.4L460.8 832.5L462.8 832.5L464.8 832.6L466.8 832.6L468.8 832.6L470.9 832.6L472.9 832.5L474.9 832.4L476.9 832.3L478.9 832.2L480.9 832L482.9 831.8L484.9 831.7L486.9 831.5L488.9 831.3L490.9 831.1L492.9 830.9L494.9 830.7L496.9 830.5L498.9 830.4L500.9 830.2L502.9 830.1L504.9 830L506.9 829.9L508.9 829.8L511 829.7L513 829.7L515 829.6L517 829.5L519 829.4L521 829.3L523 829.3L525 829.2L527 829.1L529 829.1L531 829L533 829L535 829L537 829L539 829.1L541 829.4L543 829.8L545 830.3L547 830.9L549 831.6L551 832.4L553.1 833.2L555.1 834L557.1 835.2L559.1 836.8L561.1 838.7L563.1 840.9L565.1 843.1L567.1 845.3L569.1 847.2L571.1 848.9L573.1 850.5L575.1 852L577.1 853.4L579.1 854.9L581.1 856.3L583.1 857.7L585.1 859.1L587.1 860.5L589.1 861.8L591.1 863.1L593.1 864.5L595.2 865.8L597.2 867.1L599.2 868.4L601.2 869.9L603.2 871.6L605.2 873.4L607.2 875.2L609.2 876.8L611.2 878.1L613.2 878.9L615.2 878.9L617.2 878.2L619.2 876.8L621.2 875.1L623.2 873.4L625.2 871.8L627.2 870.4L629.2 868.9L631.2 867.4L633.2 865.9L635.2 864.5L637.3 863.2L639.3 861.8L641.3 860.5L643.3 859.2L645.3 857.9L647.3 856.7L649.3 855.4L651.3 854.2L653.3 853L655.3 851.8L657.3 850.6L659.3 849.4L661.3 848.2L663.3 847.1L665.3 845.9L667.3 844.8L669.3 843.7L671.3 842.7L673.3 841.8L675.3 840.9L677.4 840.1L679.4 839.3L681.4 838.6L683.4 837.8L685.4 837.2L687.4 836.5L689.4 835.8L691.4 835.2L693.4 834.5L695.4 833.9L697.4 833.2L699.4 832.5L701.4 831.7L703.4 831L705.4 830.4L707.4 829.8L709.4 829.4L711.4 829.1L713.4 828.9L715.4 828.7L717.4 828.5L719.5 828.4L721.5 828.3L723.5 828.1L725.5 828L727.5 827.9L729.5 827.8L731.5 827.8L733.5 827.7L735.5 827.7L737.5 827.6L739.5 827.6L739.5 857.9L737.5 858.1L735.5 858.2L733.5 858.4L731.5 858.6L729.5 858.8L727.5 859.1L725.5 859.4L723.5 859.7L721.5 860L719.5 860.4L717.4 860.8L715.4 861.2L713.4 861.6L711.4 862L709.4 862.5L707.4 863L705.4 863.5L703.4 864L701.4 864.6L699.4 865.2L697.4 865.9L695.4 866.8L693.4 867.8L691.4 869L689.4 870.2L687.4 871.5L685.4 872.9L683.4 874.3L681.4 875.7L679.4 877.1L677.4 878.5L675.3 879.8L673.3 881.1L671.3 882.4L669.3 883.7L667.3 885.1L665.3 886.5L663.3 887.9L661.3 889.3L659.3 890.7L657.3 892L655.3 893.4L653.3 894.7L651.3 896L649.3 897.2L647.3 898.4L645.3 899.5L643.3 900.6L641.3 901.7L639.3 902.7L637.3 903.8L635.2 904.9L633.2 906L631.2 907.4L629.2 908.9L627.2 910.4L625.2 911.8L623.2 913L621.2 914L619.2 914.7L617.2 915L615.2 914.9L613.2 914.4L611.2 913.7L609.2 912.9L607.2 911.9L605.2 910.8L603.2 909.7L601.2 908.6L599.2 907.6L597.2 906.6L595.2 905.5L593.1 904.4L591.1 903.3L589.1 902.1L587.1 900.8L585.1 899.5L583.1 898.2L581.1 896.8L579.1 895.3L577.1 893.8L575.1 892L573.1 890.2L571.1 888.3L569.1 886.4L567.1 884.5L565.1 882.5L563.1 880.7L561.1 878.9L559.1 877.2L557.1 875.4L555.1 873.4L553.1 871.5L551 869.6L549 867.9L547 866.4L545 865.1L543 864.3L541 863.9L539 863.6L537 863.3L535 863L533 862.7L531 862.4L529 862.1L527 861.9L525 861.7L523 861.4L521 861.2L519 861L517 860.8L515 860.6L513 860.5L511 860.3L508.9 860.2L506.9 860L504.9 859.9L502.9 859.8L500.9 859.6L498.9 859.5L496.9 859.5L494.9 859.4L492.9 859.3L490.9 859.2L488.9 859.2L486.9 859.1L484.9 859.1L482.9 859L480.9 859L478.9 859L476.9 859L474.9 859L472.9 859L470.9 859L468.8 859L466.8 859L464.8 859L462.8 859L460.8 859L458.8 859L456.8 859L454.8 859L452.8 859L450.8 859L448.8 859L446.8 859L444.8 859L442.8 859L440.8 859L438.8 859L436.8 859L434.8 859L432.8 859L430.8 859L428.8 859L426.7 859L424.7 859L422.7 859L420.7 859L418.7 859L416.7 859L414.7 859L412.7 859L410.7 859L408.7 859L406.7 859Z" fill="#f9b6ba"/>
<path d="M415.1 838.8L417.7 839L420.3 839.2L422.9 839.3L425.4 839.5L428 839.7L430.6 839.9L433.2 840L435.8 840.2L438.4 840.3L441 840.4L443.6 840.5L446.2 840.6L448.8 840.7L451.4 840.8L454 840.9L456.6 841L459.1 841.1L461.7 841.1L464.3 841.2L466.9 841.2" stroke="#fdd4e4" stroke-width="10.2" stroke-linecap="round" stroke-linejoin="round" fill="none"/>
<path d="M481.1 840.7L483.7 840.6L486.3 840.4L488.9 840.3L491.5 840.1L494.1 839.9L496.7 839.8L499.3 839.7L501.9 839.6L504.5 839.5L507.1 839.5L509.7 839.5L512.3 839.4L514.9 839.4L517.5 839.4L520.1 839.4L522.7 839.4L525.3 839.4L527.9 839.5L530.5 839.5L533.1 839.6L535.7 839.7L538.3 839.8L540.9 840.1" stroke="#fdd4e4" stroke-width="10.2" stroke-linecap="round" stroke-linejoin="round" fill="none"/>
<path d="M555.1 846.1L557.6 847.9L560.1 850.1L562.6 852.6L565.1 855.3L567.7 857.9L570.2 860.2L572.7 862.3L575.2 864.3L577.7 866.2L580.2 868.1L582.8 869.8L585.3 871.6L587.8 873.3L590.3 874.9L592.8 876.5L595.3 878.1L597.8 879.6L600.4 881.2L602.9 883.1L605.4 885.1L607.9 887.1L610.4 888.8" stroke="#fdd4e4" stroke-width="10.2" stroke-linecap="round" stroke-linejoin="round" fill="none"/>
<path d="M624.6 884.5L627.2 882.7L629.8 880.8L632.4 878.8L635 877L637.6 875.4L640.2 873.7L642.8 872.1L645.4 870.5L648.1 868.9L650.7 867.3L653.3 865.7L655.9 864.2L658.5 862.5L661.1 860.9L663.7 859.3L666.3 857.7L668.9 856.2" stroke="#fdd4e4" stroke-width="10.2" stroke-linecap="round" stroke-linejoin="round" fill="none"/>
<path d="M683.1 849.3L685.7 848.1L688.3 847L690.9 846L693.4 844.9L696 844L698.6 843L701.2 842.1L703.8 841.3L706.4 840.5L709 839.9L711.6 839.4L714.2 839.1L716.8 838.8L719.4 838.5L722 838.2L724.6 838L727.1 837.8L729.7 837.7L732.3 837.5L734.9 837.4" stroke="#fdd4e4" stroke-width="10.2" stroke-linecap="round" stroke-linejoin="round" fill="none"/>
<path d="M415.1 852.1L417.7 852.1L420.3 852.2L422.9 852.3L425.4 852.3L428 852.4L430.6 852.5L433.2 852.5L435.8 852.6L438.4 852.6L441 852.6L443.6 852.7L446.2 852.7L448.8 852.7L451.4 852.8L454 852.8L456.6 852.8L459.1 852.9L461.7 852.9L464.3 852.9L466.9 852.9" stroke="#fdd4e4" stroke-width="10.2" stroke-linecap="round" stroke-linejoin="round" fill="none"/>
<path d="M481.1 852.8L483.7 852.7L486.3 852.7L488.9 852.7L491.5 852.7L494.1 852.7L496.7 852.7L499.3 852.8L501.9 852.8L504.5 852.9L507.1 853L509.7 853.1L512.3 853.2L514.9 853.4L517.5 853.5L520.1 853.7L522.7 853.9L525.3 854.1L527.9 854.3L530.5 854.5L533.1 854.8L535.7 855L538.3 855.3L540.9 855.7" stroke="#fdd4e4" stroke-width="10.2" stroke-linecap="round" stroke-linejoin="round" fill="none"/>
<path d="M555.1 864.1L557.6 866.3L560.1 868.5L562.6 870.8L565.1 873.2L567.7 875.7L570.2 878.1L572.7 880.4L575.2 882.6L577.7 884.7L580.2 886.5L582.8 888.3L585.3 890L587.8 891.6L590.3 893.2L592.8 894.7L595.3 896.2L597.8 897.6L600.4 898.9L602.9 900.4L605.4 902.1L607.9 903.6L610.4 905" stroke="#fdd4e4" stroke-width="10.2" stroke-linecap="round" stroke-linejoin="round" fill="none"/>
<path d="M624.6 902.7L627.2 900.9L629.8 899L632.4 897.1L635 895.4L637.6 893.9L640.2 892.5L642.8 891L645.4 889.5L648.1 888L650.7 886.4L653.3 884.8L655.9 883.1L658.5 881.4L661.1 879.7L663.7 877.9L666.3 876.2L668.9 874.5" stroke="#fdd4e4" stroke-width="10.2" stroke-linecap="round" stroke-linejoin="round" fill="none"/>
<path d="M683.1 865.9L685.7 864.3L688.3 862.7L690.9 861.3L693.4 860L696 858.8L698.6 857.8L701.2 856.9L703.8 856.2L706.4 855.5L709 854.8L711.6 854.3L714.2 853.8L716.8 853.3L719.4 852.9L722 852.5L724.6 852.2L727.1 851.8L729.7 851.6L732.3 851.3L734.9 851.1" stroke="#fdd4e4" stroke-width="10.2" stroke-linecap="round" stroke-linejoin="round" fill="none"/>
<g fill="#f265b4"><ellipse cx="435.3" cy="839.6" rx="5" ry="2.6" transform="rotate(0 435.3 839.6)"/><ellipse cx="437.6" cy="851" rx="5" ry="2.6" transform="rotate(0 437.6 851)"/><ellipse cx="522" cy="840" rx="5" ry="2.6" transform="rotate(6.1 522 840)"/><ellipse cx="513" cy="852.8" rx="5" ry="2.6" transform="rotate(4.8 513 852.8)"/><ellipse cx="580.3" cy="874.2" rx="5" ry="2.6" transform="rotate(35.7 580.3 874.2)"/><ellipse cx="574.7" cy="886" rx="5" ry="2.6" transform="rotate(41.8 574.7 886)"/><ellipse cx="642.3" cy="874.2" rx="5" ry="2.6" transform="rotate(-27.8 642.3 874.2)"/><ellipse cx="647.3" cy="889.4" rx="5" ry="2.6" transform="rotate(-30 647.3 889.4)"/><ellipse cx="709.4" cy="851.4" rx="5" ry="2.6" transform="rotate(-13.5 709.4 851.4)"/><ellipse cx="709" cy="837.5" rx="5" ry="2.6" transform="rotate(-13.6 709 837.5)"/></g>
<path d="M406.7 794.2L408.7 794.5L410.7 794.8L412.7 795.1L414.7 795.5L416.7 795.9L418.7 796.3L420.7 796.8L422.7 797.2L424.7 797.7L426.7 798.2L428.8 798.6L430.8 799.1L432.8 799.6L434.8 800L436.8 800.4L438.8 800.8L440.8 801.1L442.8 801.5L444.8 801.9L446.8 802.2L448.8 802.6L450.8 803L452.8 803.4L454.8 803.8L456.8 804.1L458.8 804.5L460.8 804.8L462.8 805.1L464.8 805.3L466.8 805.6L468.8 805.7L470.9 805.9L472.9 806L474.9 806L476.9 806L478.9 805.9L480.9 805.8L482.9 805.6L484.9 805.4L486.9 805.1L488.9 804.9L490.9 804.6L492.9 804.2L494.9 803.9L496.9 803.6L498.9 803.2L500.9 802.9L502.9 802.5L504.9 802.2L506.9 801.9L508.9 801.6L511 801.4L513 801.1L515 800.8L517 800.5L519 800.2L521 799.8L523 799.5L525 799.2L527 798.9L529 798.6L531 798.3L533 798L535 797.8L537 797.5L539 797.3L541 797.2L543 797.1L545 797L547 797L549 797L551 796.9L553.1 796.9L555.1 796.9L557.1 796.9L559.1 796.9L561.1 796.8L563.1 796.8L565.1 796.8L567.1 796.8L569.1 796.8L571.1 796.8L573.1 796.8L575.1 796.8L577.1 796.9L579.1 797.3L581.1 797.8L583.1 798.4L585.1 799.2L587.1 800L589.1 801.5L591.1 803.4L593.1 805.8L595.2 809.5L597.2 814.7L599.2 820.6L601.2 826.6L603.2 832.5L605.2 839.1L607.2 845.5L609.2 850.6L611.2 854.2L613.2 856.7L615.2 858.1L617.2 858.7L619.2 857.9L621.2 856.3L623.2 853.6L625.2 849.6L627.2 843.3L629.2 835.6L631.2 828.2L633.2 822.1L635.2 816.2L637.3 810.7L639.3 806L641.3 802.6L643.3 800.2L645.3 798.5L647.3 797.3L649.3 796.3L651.3 795.6L653.3 795.2L655.3 794.9L657.3 794.6L659.3 794.4L661.3 794.2L663.3 794.1L665.3 794L667.3 794L669.3 794L671.3 794L673.3 794L675.3 794.1L677.4 794.1L679.4 794.1L681.4 794.1L683.4 794.2L685.4 794.2L687.4 794.2L689.4 794.3L691.4 794.3L693.4 794.4L695.4 794.4L697.4 794.5L699.4 794.5L701.4 794.6L703.4 794.6L705.4 794.7L707.4 794.7L709.4 794.8L711.4 794.8L713.4 794.9L715.4 794.9L717.4 795L719.5 795L721.5 795.1L723.5 795.1L725.5 795.2L727.5 795.2L729.5 795.3L731.5 795.3L733.5 795.3L735.5 795.4L737.5 795.4L739.5 795.4L739.5 829.6L737.5 829.6L735.5 829.7L733.5 829.7L731.5 829.8L729.5 829.8L727.5 829.9L725.5 830L723.5 830.1L721.5 830.3L719.5 830.4L717.4 830.5L715.4 830.7L713.4 830.9L711.4 831.1L709.4 831.4L707.4 831.8L705.4 832.4L703.4 833L701.4 833.7L699.4 834.5L697.4 835.2L695.4 835.9L693.4 836.5L691.4 837.2L689.4 837.8L687.4 838.5L685.4 839.2L683.4 839.8L681.4 840.6L679.4 841.3L677.4 842.1L675.3 842.9L673.3 843.8L671.3 844.7L669.3 845.7L667.3 846.8L665.3 847.9L663.3 849.1L661.3 850.2L659.3 851.4L657.3 852.6L655.3 853.8L653.3 855L651.3 856.2L649.3 857.4L647.3 858.7L645.3 859.9L643.3 861.2L641.3 862.5L639.3 863.8L637.3 865.2L635.2 866.5L633.2 867.9L631.2 869.4L629.2 870.9L627.2 872.4L625.2 873.8L623.2 875.4L621.2 877.1L619.2 878.8L617.2 880.2L615.2 880.9L613.2 880.9L611.2 880.1L609.2 878.8L607.2 877.2L605.2 875.4L603.2 873.6L601.2 871.9L599.2 870.4L597.2 869.1L595.2 867.8L593.1 866.5L591.1 865.1L589.1 863.8L587.1 862.5L585.1 861.1L583.1 859.7L581.1 858.3L579.1 856.9L577.1 855.4L575.1 854L573.1 852.5L571.1 850.9L569.1 849.2L567.1 847.3L565.1 845.1L563.1 842.9L561.1 840.7L559.1 838.8L557.1 837.2L555.1 836L553.1 835.2L551 834.4L549 833.6L547 832.9L545 832.3L543 831.8L541 831.4L539 831.1L537 831L535 831L533 831L531 831L529 831.1L527 831.1L525 831.2L523 831.3L521 831.3L519 831.4L517 831.5L515 831.6L513 831.7L511 831.7L508.9 831.8L506.9 831.9L504.9 832L502.9 832.1L500.9 832.2L498.9 832.4L496.9 832.5L494.9 832.7L492.9 832.9L490.9 833.1L488.9 833.3L486.9 833.5L484.9 833.7L482.9 833.8L480.9 834L478.9 834.2L476.9 834.3L474.9 834.4L472.9 834.5L470.9 834.6L468.8 834.6L466.8 834.6L464.8 834.6L462.8 834.5L460.8 834.5L458.8 834.4L456.8 834.4L454.8 834.3L452.8 834.2L450.8 834.1L448.8 834L446.8 833.9L444.8 833.8L442.8 833.7L440.8 833.5L438.8 833.4L436.8 833.3L434.8 833.2L432.8 833L430.8 832.8L428.8 832.6L426.7 832.4L424.7 832.3L422.7 832.1L420.7 831.9L418.7 831.7L416.7 831.5L414.7 831.3L412.7 831.2L410.7 831L408.7 830.9L406.7 830.8Z" fill="#fde4b4"/>
<path d="M397.5 802L400.4 804.6L403.4 805.8L406.4 806.7L409.4 807.4L412.4 808.1L415.4 808.8L418.4 809.4L421.4 810L424.5 810.6L427.6 811.2L430.7 811.8L433.9 812.3L437.1 812.8L440.3 813.1L443.4 813.4L446.5 813.6L449.7 813.8L452.8 813.9L456.1 813.8L459.3 813.5L462.7 812L462.7 812L459.8 809.8L456.8 808.6L453.8 807.5L450.8 806.6L447.7 805.8L444.7 805.1L441.6 804.4L438.5 803.8L435.5 803.2L432.5 802.6L429.5 801.9L426.4 801.3L423.3 800.6L420.2 800.1L417 799.6L413.8 799.2L410.5 799L407.3 799L404 799.3L400.8 799.9L397.5 802ZM467.7 812.4L470.7 814.4L473.9 815.2L477.2 815.6L480.4 815.8L483.7 815.7L486.9 815.6L490.1 815.3L493.3 814.9L496.4 814.5L499.5 814.1L502.6 813.7L505.7 813.3L508.7 813L511.9 812.6L515 812.1L518.1 811.6L521.2 810.9L524.3 810.2L527.3 809.3L530.3 808.1L533.2 805.7L533.2 805.7L529.9 804L526.6 803.7L523.4 803.6L520.2 803.6L517.1 803.8L514 804.1L510.9 804.3L507.8 804.6L504.6 805.1L501.4 805.5L498.3 806L495.2 806.5L492.1 807.1L489.1 807.6L486 808.1L483 808.6L480 809.1L477 809.6L473.9 810.2L470.9 810.8L467.7 812.4ZM538.2 805.3L541.3 807.4L544.4 808.4L547.4 809.3L550.4 810L553.4 810.6L556.3 811.2L559 811.9L561.9 812.7L565 813.5L568.2 814.2L571.4 814.9L574.3 815.4L577 816L579.6 816.8L582.3 817.8L584.8 818.7L586.9 819.9L589.1 821.4L591.5 822.9L594 824.7L596.8 826.7L596.8 826.7L597 823.1L596.4 819.4L594.8 816.1L592.5 813.3L589.5 810.7L586.4 808.9L583.3 807.4L580 806.2L576.5 805.2L573.3 804.6L570.3 804.1L567.4 803.4L564.4 802.7L561.2 802L557.7 801.5L554.3 801.4L551.1 801.4L547.9 801.7L544.6 802.2L541.3 803.1L538.2 805.3ZM598.8 831.3L598.9 834.7L599.6 837.8L600.6 840.8L601.5 843.8L602.4 846.7L603.4 849.8L604.4 852.8L605.6 855.8L607.1 858.8L609.1 861.8L611.7 864.7L615.8 866.9L620.3 865.2L623.3 862.7L625.4 859.8L627.1 856.8L628.3 853.7L629.1 850.5L629.8 847.4L630.3 844.3L630.2 840.9L630.2 840.9L628.1 843.6L626.7 846.4L625.5 849.3L624.2 852.1L622.9 854.7L621.4 857.1L619.7 859.2L617.8 860.6L616.4 860.6L614.9 860.1L613.1 858.6L611.6 856.3L610.3 853.7L609.1 850.9L607.9 848.1L606.8 845.2L605.5 842.2L604.1 839.3L602.6 836.6L601 833.8L598.8 831.3ZM631.9 836.2L634.1 833.7L635.8 831L637.4 828.3L639.1 825.7L641 823.3L643.1 821.3L645.3 819.7L647 818.1L648.9 816.7L651.1 815.6L653.5 814.6L656.2 813.9L659.1 813.1L662 812.4L664.8 811.7L667.8 811L670.8 810.3L673.8 809.6L676.8 808.7L679.9 807.5L682.8 804.9L682.8 804.9L679.5 802.9L676.3 802.2L673 801.9L669.8 801.8L666.6 801.8L663.3 802.1L660 802.5L656.7 803.1L653.5 803.9L650.2 804.8L646.7 806.2L643.4 808L640.2 810.4L637.6 813.2L636.1 816.8L635.2 820.3L634.3 823.5L633.5 826.7L632.8 829.8L632 832.9L631.9 836.2ZM687.8 804.6L691.1 806.7L694.3 807.5L697.5 807.9L700.6 808.2L703.8 808.3L706.8 808.4L709.9 808.4L712.9 808.4L716.1 808.4L719.2 808.4L722.3 808.3L725.5 808.3L728.6 808.2L731.7 808.1L734.9 808L738 807.8L741.2 807.5L744.3 807.1L747.5 806.5L750.6 805.6L753.8 803.5L753.8 803.5L750.6 801.3L747.5 800.5L744.4 799.9L741.2 799.4L738.1 799.1L734.9 798.8L731.8 798.7L728.7 798.5L725.5 798.4L722.4 798.4L719.2 798.3L716.1 798.3L712.9 798.3L709.7 798.4L706.4 798.6L703.2 799L700.1 799.5L697 800.2L693.9 801L690.8 802.1L687.8 804.6ZM359.6 810.3L362.5 812.9L365.6 814.1L368.7 814.9L371.9 815.6L375 816.1L378.2 816.5L381.3 816.8L384.4 817L387.6 817.2L390.7 817.4L393.8 817.6L396.9 817.7L400 817.9L403.1 818L406.2 818.1L409.3 818.1L412.4 818.1L415.5 818L418.7 817.8L421.9 817.4L425.3 815.8L425.3 815.8L422.6 813.1L419.6 811.7L416.5 810.6L413.4 809.7L410.2 809L407.1 808.4L403.9 808L400.7 807.6L397.6 807.4L394.4 807.2L391.2 807L388.1 806.9L384.9 806.8L381.8 806.7L378.7 806.7L375.5 806.8L372.4 806.9L369.3 807.2L366.1 807.6L362.9 808.3L359.6 810.3ZM430.3 816.6L433.1 819.1L436.1 820.3L439.2 821.2L442.3 821.9L445.4 822.5L448.5 823.1L451.6 823.5L454.8 823.9L457.9 824.2L461.1 824.5L464.3 824.7L467.6 824.8L470.8 824.8L474.1 824.7L477.3 824.4L480.6 824.1L483.7 823.5L486.9 822.9L490 822L493 820.9L495.9 818.8L495.9 818.8L492.6 817.4L489.4 817.1L486.2 816.9L483.1 816.9L480 816.9L477 816.9L474 816.9L470.9 816.8L467.9 816.6L464.9 816.4L461.8 816.1L458.8 815.8L455.7 815.5L452.6 815.1L449.5 814.8L446.3 814.6L443.2 814.5L440 814.5L436.9 814.6L433.7 815L430.3 816.6ZM500.9 818.1L504.2 819.7L507.4 820.1L510.5 820.4L513.7 820.5L516.9 820.5L520.1 820.5L523.2 820.4L526.3 820.2L529.4 820L532.5 819.9L535.6 819.7L538.5 819.7L541.3 819.8L544.1 820.1L547 820.5L550 820.9L553 821.2L555.8 821.5L558.5 822L561.6 822.6L565.4 822.1L565.4 822.1L563.8 818.5L561.3 816.2L558.3 814.2L555 812.8L551.8 811.8L548.6 811.1L545.3 810.6L541.9 810.2L538.4 810.1L535.1 810.3L531.8 810.6L528.7 810.9L525.5 811.3L522.4 811.7L519.3 812.2L516.2 812.8L513.1 813.4L510 814L506.9 814.9L503.8 815.9L500.9 818.1ZM569.8 824.4L571.9 827.7L574.4 829.8L576.9 831.5L579.4 833.2L582 834.9L584.3 836.5L586.4 838.2L588.4 840L590.1 841.7L592.2 843.4L594.3 845.6L596.1 848.1L597.9 850.7L599.7 853.2L601.4 855.8L602.9 858.5L604.4 861.3L606.2 864.1L608.3 866.7L610.8 869L614.3 869.7L614.3 869.7L612.4 867.2L610.8 864.8L609.5 862.1L608.3 859.4L607 856.5L605.8 853.6L604.6 850.6L603.4 847.6L602.1 844.7L600.9 841.7L599.6 838.5L598.1 835.1L595.4 832.4L592.5 830.2L589.5 828.2L586.4 826.8L583.3 825.5L580.2 824.5L576.9 823.8L573.6 823.5L569.8 824.4ZM619 868.9L622.2 867.8L624.8 865.6L627 863.1L628.7 860.3L630.3 857.4L631.6 854.6L633 851.8L634.7 849.3L636.5 846.7L638.3 844.2L640.2 841.8L642.3 839.8L644.3 838L646 836.2L648 834.5L650.2 832.9L652.5 831.3L655 829.8L657.7 828.1L660.2 826.2L662.4 823L662.4 823L658.7 821.8L655.4 822.1L652.1 822.6L648.9 823.5L645.6 824.8L642.4 826.5L639.4 828.6L636.6 831.2L634.7 834.4L633.4 837.6L632.1 840.6L630.9 843.6L629.6 846.6L628.5 849.6L627.2 852.6L626 855.5L624.9 858.3L623.7 861L622.2 863.6L620.6 866.1L619 868.9ZM667.2 821.5L670.8 822.9L674 823.1L677.2 823L680.3 822.9L683.4 822.6L686.4 822.3L689.5 822L692.6 821.6L695.8 821.2L698.9 820.7L702 820.1L705 819.6L708 819.1L710.8 818.7L713.8 818.4L716.9 818L720 817.6L723.1 817L726.2 816.4L729.4 815.4L732.5 813.2L732.5 813.2L729.3 811.1L726.1 810.2L723 809.6L719.8 809.3L716.6 809L713.4 808.8L710.1 808.8L706.7 808.9L703.5 809.4L700.3 809.9L697.2 810.4L694.1 810.9L691 811.5L687.9 812.1L684.8 812.7L681.7 813.5L678.6 814.4L675.6 815.5L672.6 816.8L669.7 818.4L667.2 821.5ZM381.6 822.3L384.6 824.7L387.7 825.8L390.9 826.5L394 827.1L397.1 827.6L400.2 828L403.3 828.3L406.4 828.6L409.4 828.8L412.5 829.1L415.6 829.3L418.6 829.6L421.8 829.9L424.9 830.1L428 830.3L431.2 830.4L434.4 830.4L437.7 830.3L440.9 829.9L444.1 829.3L447.4 827.6L447.4 827.6L444.4 825.3L441.3 824.2L438.3 823.4L435.2 822.7L432.2 822L429.1 821.4L426 820.8L422.9 820.2L419.8 819.7L416.6 819.3L413.4 818.9L410.2 818.6L407.1 818.4L403.9 818.3L400.7 818.3L397.5 818.3L394.3 818.5L391.2 818.8L388 819.3L384.8 820.1L381.6 822.3ZM452.3 828L455.3 830.1L458.4 831.1L461.6 831.7L464.8 832.2L468 832.5L471.2 832.6L474.5 832.7L477.7 832.5L480.9 832.3L484.1 832.1L487.2 831.8L490.4 831.5L493.5 831.1L496.6 830.7L499.7 830.4L502.8 829.9L505.9 829.5L509 829L512.1 828.3L515.1 827.3L518.2 825.2L518.2 825.2L514.9 823.5L511.7 822.9L508.6 822.6L505.4 822.5L502.2 822.5L499 822.6L495.8 822.9L492.7 823.2L489.5 823.5L486.4 823.8L483.4 824.1L480.3 824.4L477.2 824.6L474.2 824.8L471.1 825L468.1 825.1L465 825.3L461.9 825.5L458.8 825.8L455.6 826.3L452.3 828ZM523.2 824.9L526.4 826.7L529.6 827.4L532.7 827.9L535.8 828.3L538.6 828.6L541.3 829.2L544.1 829.9L546.8 830.7L549.6 831.7L552.3 832.7L554.6 833.5L556.8 834.7L559 836.5L561.2 838.6L563.7 840.7L566.6 842.6L569.6 844.2L572.6 845.5L575.6 846.6L578.8 847.5L582.6 847.1L582.6 847.1L581.2 843.5L579 841.1L576.6 838.9L574.2 836.9L572 835.1L569.9 833.2L567.7 831.2L565.2 829.1L562.5 826.9L559.4 824.6L555.9 823.1L552.6 822.1L549.4 821.3L546.1 820.6L542.6 820.2L539.1 820.1L535.7 820.4L532.4 821L529.3 821.7L526.2 822.7L523.2 824.9ZM586.9 849.8L588.1 853.5L590 856L591.8 858.3L593.5 860.6L595.6 862.8L597.8 864.9L600 866.9L602.1 869.2L604.2 871.6L606.3 874.3L608.9 876.9L612.5 879.3L617.2 879L620.6 876.7L623.3 874.4L625.5 872L627.6 869.5L629.5 866.8L631.4 864.3L633 861.7L633.7 858.2L633.7 858.2L630.4 859.5L628.2 861.9L626.4 864.4L624.4 866.7L622.2 868.8L620 870.8L617.8 872.6L615.8 873.3L614.3 872.9L612.5 872.1L610.5 870.5L608.7 868.2L607.1 865.5L605.6 862.7L603.8 859.8L601.9 857.2L599.8 854.7L597 852.6L594 850.9L590.8 849.7L586.9 849.8ZM637.1 854.5L640.8 853.9L643.7 852.7L646.4 851.5L649.1 850.3L651.9 849.1L654.6 847.9L657.4 846.6L660.2 845.3L663 844L665.8 842.6L668.5 841.4L671.3 840.2L674 839L676.8 838L679.6 836.9L682.5 835.8L685.4 834.6L688.3 833.4L691.1 832L693.9 830.3L696.4 827.3L696.4 827.3L692.8 825.9L689.5 825.7L686.3 825.9L683.1 826.3L679.9 826.9L676.7 827.6L673.6 828.4L670.4 829.4L667.3 830.6L664.3 831.9L661.4 833.2L658.5 834.7L655.6 836.1L652.9 837.6L650.1 839.2L647.3 841L644.6 843L642 845.2L639.7 847.7L637.7 850.5L637.1 854.5ZM701.2 826L704.8 827.4L707.9 827.6L710.9 827.7L713.8 827.9L716.9 828L720.1 828L723.2 828L726.3 827.9L729.4 827.8L732.5 827.7L735.6 827.7L738.7 827.6L741.8 827.5L745 827.4L748.1 827.2L751.2 827L754.3 826.7L757.5 826.4L760.6 825.9L763.7 825.1L766.9 823.1L766.9 823.1L763.9 820.8L760.7 819.8L757.6 819.2L754.4 818.7L751.3 818.4L748.1 818.2L744.9 818L741.8 818L738.6 817.9L735.4 817.9L732.3 818L729.1 818L725.9 818.2L722.8 818.3L719.6 818.6L716.4 819L713.2 819.5L709.9 820.1L706.7 821.3L703.7 822.9L701.2 826Z" fill="#fbb26c"/>
<path d="M406.7 794.2L408.2 794.4L409.7 794.7L411.2 794.9L412.7 795.1L414.2 795.4L415.7 795.7L417.2 796L418.7 796.3L420.2 796.7L421.7 797L423.2 797.3L424.7 797.7L426.2 798L427.7 798.4L429.2 798.8L430.7 799.1L432.2 799.4L433.7 799.8L435.3 800.1L436.8 800.4L438.3 800.7L439.8 801L441.3 801.2L442.8 801.5L444.3 801.8L445.8 802.1L447.3 802.3L448.8 802.6L450.3 802.9L451.8 803.2L453.3 803.5L454.8 803.8L456.3 804L457.8 804.3L459.3 804.5L460.8 804.8L462.3 805L463.8 805.2L465.3 805.4L466.8 805.6L468.3 805.7L469.8 805.8L471.3 805.9L472.8 806L474.3 806L475.8 806L477.3 806L478.8 805.9L480.3 805.8L481.8 805.7L483.3 805.5L484.8 805.4L486.3 805.2L487.8 805L489.3 804.8L490.8 804.6L492.4 804.3L493.9 804.1L495.4 803.8L496.9 803.6L498.4 803.3L499.9 803.1L501.4 802.8L502.9 802.6L504.4 802.3L505.9 802.1L507.4 801.9L508.9 801.6L510.4 801.5L511.9 801.2L513.4 801L514.9 800.8L516.4 800.6L517.9 800.3L519.4 800.1L520.9 799.9L522.4 799.6L523.9 799.4L525.4 799.1L526.9 798.9L528.4 798.7L529.9 798.4L531.4 798.2L532.9 798L534.4 797.8L535.9 797.7L537.4 797.5L538.9 797.4L540.4 797.2L541.9 797.1L543.4 797.1L544.9 797L546.4 797L547.9 797L549.5 797L551 796.9L552.5 796.9L554 796.9L555.5 796.9L557 796.9L558.5 796.9L560 796.9L561.5 796.8L563 796.8L564.5 796.8L566 796.8L567.5 796.8L569 796.8L570.5 796.8L572 796.8L573.5 796.8L575 796.8L576.5 796.9L578 797.1L579.5 797.4L581 797.7L582.5 798.2L584 798.7L585.5 799.3L587 800L588.5 801L590 802.3L591.5 803.8L593 805.6L594.5 808.2L596 811.6L597.5 815.8L599 820.2L600.5 824.8L602 829.1L603.5 833.7L605.1 838.7L606.6 843.5L608.1 847.9L609.6 851.3L611.1 854L612.6 856.1L614.1 857.4L615.6 858.3L617.1 858.7L618.6 858.3L620.1 857.2L621.6 855.9L623.1 853.8L624.6 851L626.1 847.1L627.6 841.9L629.1 836.1L630.6 830.4L632.1 825.5L633.6 821.1L635.1 816.6L636.6 812.4L638.1 808.5L639.6 805.3L641.1 802.8L642.6 801L644.1 799.4L645.6 798.2L647.1 797.4L648.6 796.6L650.1 796L651.6 795.6L653.1 795.3L654.6 795L656.1 794.8L657.6 794.6L659.1 794.4L660.6 794.3L662.2 794.1L663.7 794.1L665.2 794L666.7 794L668.2 794L669.7 794L671.2 794L672.7 794L674.2 794L675.7 794.1L677.2 794.1L678.7 794.1L680.2 794.1L681.7 794.1L683.2 794.2L684.7 794.2L686.2 794.2L687.7 794.3L689.2 794.3L690.7 794.3L692.2 794.4L693.7 794.4L695.2 794.4L696.7 794.5L698.2 794.5L699.7 794.5L701.2 794.6L702.7 794.6L704.2 794.7L705.7 794.7L707.2 794.7L708.7 794.8L710.2 794.8L711.7 794.9L713.2 794.9L714.7 794.9L716.2 795L717.7 795L719.3 795L720.8 795.1L722.3 795.1L723.8 795.1L725.3 795.2L726.8 795.2L728.3 795.2L729.8 795.3L731.3 795.3L732.8 795.3L734.3 795.3L735.8 795.4L737.3 795.4L738.8 795.4L740.3 795.4L741.8 795.4L743.3 795.4L744.8 795.5L746.3 795.5L746.3 747L406.7 747Z" fill="#fff"/>
<path d="M406.7 794.2L407.9 794.4L409.1 794.6L410.3 794.7L411.5 794.9L412.7 795.1L413.9 795.3L415.1 795.6L416.3 795.8L417.5 796.1L418.7 796.3L419.9 796.6L421.1 796.9L422.3 797.1L423.5 797.4L424.7 797.7L425.9 798L427.1 798.3L428.3 798.5L429.5 798.8L430.7 799.1L431.9 799.4L433.1 799.6L434.3 799.9L435.5 800.2L436.7 800.4L437.9 800.6L439.1 800.8L440.3 801.1L441.5 801.3L442.7 801.5L443.9 801.7L445.1 801.9L446.3 802.2L447.5 802.4L448.8 802.6L450 802.9L451.2 803.1L452.4 803.3L453.6 803.5L454.8 803.8L456 804L457.2 804.2L458.4 804.4L459.6 804.6L460.8 804.8L462 805L463.2 805.1L464.4 805.3L465.6 805.4L466.8 805.6L468 805.7L469.2 805.8L470.4 805.9L471.6 805.9L472.8 806L474 806L475.2 806L476.4 806L477.6 806L478.8 805.9L480 805.8L481.2 805.7L482.4 805.6L483.6 805.5L484.8 805.4L486 805.2L487.2 805.1L488.4 804.9L489.6 804.8L490.8 804.6L492 804.4L493.2 804.2L494.4 804L495.6 803.8L496.8 803.6L498 803.4L499.2 803.2L500.4 803L501.6 802.8L502.8 802.6L504 802.4L505.2 802.2L506.4 802L507.6 801.8L508.8 801.7L510 801.5L511.2 801.3L512.4 801.2L513.6 801L514.8 800.8L516 800.6L517.2 800.5L518.4 800.3L519.6 800.1L520.8 799.9L522 799.7L523.2 799.5L524.4 799.3L525.6 799.1L526.8 798.9L528 798.7L529.2 798.5L530.4 798.4L531.7 798.2L532.9 798L534.1 797.9L535.3 797.7L536.5 797.6L537.7 797.5L538.9 797.4L540.1 797.3L541.3 797.2L542.5 797.1L543.7 797.1L544.9 797L546.1 797L547.3 797L548.5 797L549.7 797L550.9 796.9L552.1 796.9L553.3 796.9L554.5 796.9L555.7 796.9L556.9 796.9L558.1 796.9L559.3 796.9L560.5 796.9L561.7 796.8L562.9 796.8L564.1 796.8L565.3 796.8L566.5 796.8L567.7 796.8L568.9 796.8L570.1 796.8L571.3 796.8L572.5 796.8L573.7 796.8L574.9 796.8L576.1 796.8L577.3 797L578.5 797.1L579.7 797.4L580.9 797.7L582.1 798.1L583.3 798.5L584.5 798.9L585.7 799.4L586.9 799.9L588.1 800.7L589.3 801.6L590.5 802.7L591.7 804L592.9 805.5L594.1 807.4L595.3 809.9L596.5 812.9L597.7 816.3L598.9 819.9L600.1 823.5L601.3 827.1L602.5 830.5L603.7 834.3L604.9 838.3L606.1 842.2L607.3 845.9L608.5 849.1L609.7 851.7L610.9 853.8L612.1 855.6L613.3 856.8L614.5 857.7L615.8 858.4L617 858.7L618.2 858.4L619.4 857.8L620.6 856.9L621.8 855.7L623 854L624.2 851.9L625.4 849.2L626.6 845.6L627.8 841.3L629 836.6L630.2 832L631.4 827.8L632.6 824.1L633.8 820.5L635 817L636.2 813.6L637.4 810.3L638.6 807.5L639.8 805L641 803L642.2 801.5L643.4 800.1L644.6 799L645.8 798.1L647 797.4L648.2 796.8L649.4 796.3L650.6 795.9L651.8 795.5L653 795.3L654.2 795.1L655.4 794.9L656.6 794.7L657.8 794.6L659 794.4L660.2 794.3L661.4 794.2L662.6 794.1L663.8 794L665 794L666.2 794L667.4 794L668.6 794L669.8 794L671 794L672.2 794L673.4 794L674.6 794L675.8 794.1L677 794.1L678.2 794.1L679.4 794.1L680.6 794.1L681.8 794.1L683 794.2L684.2 794.2L685.4 794.2L686.6 794.2L687.8 794.3L689 794.3L690.2 794.3L691.4 794.3L692.6 794.4L693.8 794.4L695 794.4L696.2 794.4L697.4 794.5L698.7 794.5L699.9 794.5L701.1 794.6L702.3 794.6L703.5 794.6L704.7 794.7L705.9 794.7L707.1 794.7L708.3 794.8L709.5 794.8L710.7 794.8L711.9 794.9L713.1 794.9L714.3 794.9L715.5 794.9L716.7 795L717.9 795L719.1 795L720.3 795.1L721.5 795.1L722.7 795.1L723.9 795.1L725.1 795.2L726.3 795.2L727.5 795.2L728.7 795.2L729.9 795.3L731.1 795.3L732.3 795.3L733.5 795.3L734.7 795.4L735.9 795.4L737.1 795.4L738.3 795.4L739.5 795.4" stroke="#e0b048" stroke-width="3.8" fill="none" stroke-linejoin="round"/>
<path d="M406.7 916.7L409.7 916.1L412.8 915.3L415.8 914.5L418.8 913.7L421.8 912.8L424.9 911.9L427.9 911L430.9 910.1L433.9 909.3L437 908.6L440 908L443 907.4L446 906.7L449.1 906.1L452.1 905.6L455.1 905L458.1 904.5L461.2 903.9L464.2 903.5L467.2 903L470.2 902.6L473.3 902.3L476.3 902L479.3 901.7L482.3 901.4L485.4 901.1L488.4 900.9L491.4 900.6L494.4 900.5L497.5 900.4L500.5 900.3L503.5 900.4L506.5 900.6L509.6 901L512.6 901.4L515.6 902L518.6 902.7L521.7 903.4L524.7 904.1L527.7 904.9L530.7 905.8L533.8 907L536.8 908.3L539.8 909.7L542.8 911.2L545.9 912.6L548.9 913.9L551.9 915.3L554.9 916.8L558 918.4L561 920.1L564 922.2L567 924.4L570.1 926.7L573.1 928.7L576.1 930.7L579.2 932.7L582.2 934.5L585.2 936.2L588.2 937.6L591.3 939.1L594.3 940.3L597.3 941.3L600.3 942.1L603.4 942.8L606.4 943.4L609.4 943.8L612.4 943.8L615.5 943.7L618.5 943.7L621.5 943.6L624.5 943.4L627.6 943L630.6 942.5L633.6 941.9L636.6 941.1L639.7 940.2L642.7 939L645.7 937.6L648.7 936L651.8 934.3L654.8 932.5L657.8 930.7L660.8 928.9L663.9 927L666.9 925L669.9 922.8L672.9 920.6L676 918.3L679 916.1L682 913.9L685 911.9L688.1 910L691.1 908.1L694.1 906.1L697.1 904.2L700.2 902.4L703.2 900.7L706.2 899.2L709.2 897.9L712.3 896.9L715.3 896.1L718.3 895.4L721.3 894.7L724.4 894.1L727.4 893.5L730.4 893L733.4 892.6L736.5 892.1L739.5 891.7L739.5 993.5L406.7 993.5Z" fill="#fbc6e1" transform="translate(0,6)"/>
<clipPath id="c2d"><path d="M406.7 916.7L409.7 916.1L412.8 915.3L415.8 914.5L418.8 913.7L421.8 912.8L424.9 911.9L427.9 911L430.9 910.1L433.9 909.3L437 908.6L440 908L443 907.4L446 906.7L449.1 906.1L452.1 905.6L455.1 905L458.1 904.5L461.2 903.9L464.2 903.5L467.2 903L470.2 902.6L473.3 902.3L476.3 902L479.3 901.7L482.3 901.4L485.4 901.1L488.4 900.9L491.4 900.6L494.4 900.5L497.5 900.4L500.5 900.3L503.5 900.4L506.5 900.6L509.6 901L512.6 901.4L515.6 902L518.6 902.7L521.7 903.4L524.7 904.1L527.7 904.9L530.7 905.8L533.8 907L536.8 908.3L539.8 909.7L542.8 911.2L545.9 912.6L548.9 913.9L551.9 915.3L554.9 916.8L558 918.4L561 920.1L564 922.2L567 924.4L570.1 926.7L573.1 928.7L576.1 930.7L579.2 932.7L582.2 934.5L585.2 936.2L588.2 937.6L591.3 939.1L594.3 940.3L597.3 941.3L600.3 942.1L603.4 942.8L606.4 943.4L609.4 943.8L612.4 943.8L615.5 943.7L618.5 943.7L621.5 943.6L624.5 943.4L627.6 943L630.6 942.5L633.6 941.9L636.6 941.1L639.7 940.2L642.7 939L645.7 937.6L648.7 936L651.8 934.3L654.8 932.5L657.8 930.7L660.8 928.9L663.9 927L666.9 925L669.9 922.8L672.9 920.6L676 918.3L679 916.1L682 913.9L685 911.9L688.1 910L691.1 908.1L694.1 906.1L697.1 904.2L700.2 902.4L703.2 900.7L706.2 899.2L709.2 897.9L712.3 896.9L715.3 896.1L718.3 895.4L721.3 894.7L724.4 894.1L727.4 893.5L730.4 893L733.4 892.6L736.5 892.1L739.5 891.7L739.5 993.5L406.7 993.5Z" transform="translate(0,6)"/></clipPath>
<g clip-path="url(#c2d)"><path d="M388.7 1198.2L759.5 1382.1M388.7 628.8L759.5 444.9M388.7 1154.8L759.5 1338.7M388.7 672.2L759.5 488.3M388.7 1111.4L759.5 1295.3M388.7 715.6L759.5 531.7M388.7 1068L759.5 1251.9M388.7 759L759.5 575.1M388.7 1024.6L759.5 1208.5M388.7 802.4L759.5 618.5M388.7 981.2L759.5 1165.1M388.7 845.8L759.5 661.9M388.7 937.8L759.5 1121.7M388.7 889.2L759.5 705.3M388.7 894.4L759.5 1078.3M388.7 932.6L759.5 748.7M388.7 851L759.5 1034.9M388.7 976L759.5 792.1M388.7 807.6L759.5 991.5M388.7 1019.4L759.5 835.5M388.7 764.2L759.5 948.1M388.7 1062.8L759.5 878.9M388.7 720.8L759.5 904.7M388.7 1106.2L759.5 922.3M388.7 677.4L759.5 861.3M388.7 1149.6L759.5 965.7M388.7 634L759.5 817.9M388.7 1193L759.5 1009.1M388.7 590.6L759.5 774.5M388.7 1236.4L759.5 1052.5M388.7 547.2L759.5 731.1M388.7 1279.8L759.5 1095.9" stroke="#f7a3d3" stroke-width="1.6" fill="none"/>
<ellipse cx="427.2" cy="913.5" rx="10.5" ry="3.2" fill="#f271ba"/>
<ellipse cx="471" cy="913.5" rx="16.5" ry="5.8" fill="#fcdbee"/><ellipse cx="471" cy="913.5" rx="7" ry="1.8" fill="#feebf6"/>
<ellipse cx="514.8" cy="913.5" rx="10.5" ry="3.2" fill="#f271ba"/>
<ellipse cx="558.5" cy="913.5" rx="16.5" ry="5.8" fill="#fcdbee"/><ellipse cx="558.5" cy="913.5" rx="7" ry="1.8" fill="#feebf6"/>
<ellipse cx="602.2" cy="913.5" rx="10.5" ry="3.2" fill="#f271ba"/>
<ellipse cx="646" cy="913.5" rx="16.5" ry="5.8" fill="#fcdbee"/><ellipse cx="646" cy="913.5" rx="7" ry="1.8" fill="#feebf6"/>
<ellipse cx="689.8" cy="913.5" rx="10.5" ry="3.2" fill="#f271ba"/>
<ellipse cx="733.5" cy="913.5" rx="16.5" ry="5.8" fill="#fcdbee"/><ellipse cx="733.5" cy="913.5" rx="7" ry="1.8" fill="#feebf6"/>
<ellipse cx="427.2" cy="935.2" rx="16.5" ry="5.8" fill="#fcdbee"/><ellipse cx="427.2" cy="935.2" rx="7" ry="1.8" fill="#feebf6"/>
<ellipse cx="471" cy="935.2" rx="10.5" ry="3.2" fill="#f271ba"/>
<ellipse cx="514.8" cy="935.2" rx="16.5" ry="5.8" fill="#fcdbee"/><ellipse cx="514.8" cy="935.2" rx="7" ry="1.8" fill="#feebf6"/>
<ellipse cx="558.5" cy="935.2" rx="10.5" ry="3.2" fill="#f271ba"/>
<ellipse cx="602.2" cy="935.2" rx="16.5" ry="5.8" fill="#fcdbee"/><ellipse cx="602.2" cy="935.2" rx="7" ry="1.8" fill="#feebf6"/>
<ellipse cx="646" cy="935.2" rx="10.5" ry="3.2" fill="#f271ba"/>
<ellipse cx="689.8" cy="935.2" rx="16.5" ry="5.8" fill="#fcdbee"/><ellipse cx="689.8" cy="935.2" rx="7" ry="1.8" fill="#feebf6"/>
<ellipse cx="733.5" cy="935.2" rx="10.5" ry="3.2" fill="#f271ba"/>
<ellipse cx="427.2" cy="956" rx="10.5" ry="3.2" fill="#f271ba"/>
<ellipse cx="471" cy="956" rx="16.5" ry="5.8" fill="#fcdbee"/><ellipse cx="471" cy="956" rx="7" ry="1.8" fill="#feebf6"/>
<ellipse cx="514.8" cy="956" rx="10.5" ry="3.2" fill="#f271ba"/>
<ellipse cx="558.5" cy="956" rx="16.5" ry="5.8" fill="#fcdbee"/><ellipse cx="558.5" cy="956" rx="7" ry="1.8" fill="#feebf6"/>
<ellipse cx="602.2" cy="956" rx="10.5" ry="3.2" fill="#f271ba"/>
<ellipse cx="646" cy="956" rx="16.5" ry="5.8" fill="#fcdbee"/><ellipse cx="646" cy="956" rx="7" ry="1.8" fill="#feebf6"/>
<ellipse cx="689.8" cy="956" rx="10.5" ry="3.2" fill="#f271ba"/>
<ellipse cx="733.5" cy="956" rx="16.5" ry="5.8" fill="#fcdbee"/><ellipse cx="733.5" cy="956" rx="7" ry="1.8" fill="#feebf6"/>
<ellipse cx="427.2" cy="977.3" rx="16.5" ry="5.8" fill="#fcdbee"/><ellipse cx="427.2" cy="977.3" rx="7" ry="1.8" fill="#feebf6"/>
<ellipse cx="471" cy="977.3" rx="10.5" ry="3.2" fill="#f271ba"/>
<ellipse cx="514.8" cy="977.3" rx="16.5" ry="5.8" fill="#fcdbee"/><ellipse cx="514.8" cy="977.3" rx="7" ry="1.8" fill="#feebf6"/>
<ellipse cx="558.5" cy="977.3" rx="10.5" ry="3.2" fill="#f271ba"/>
<ellipse cx="602.2" cy="977.3" rx="16.5" ry="5.8" fill="#fcdbee"/><ellipse cx="602.2" cy="977.3" rx="7" ry="1.8" fill="#feebf6"/>
<ellipse cx="646" cy="977.3" rx="10.5" ry="3.2" fill="#f271ba"/>
<ellipse cx="689.8" cy="977.3" rx="16.5" ry="5.8" fill="#fcdbee"/><ellipse cx="689.8" cy="977.3" rx="7" ry="1.8" fill="#feebf6"/>
<ellipse cx="733.5" cy="977.3" rx="10.5" ry="3.2" fill="#f271ba"/></g>
<path d="M406.7 916.7L409.7 916.1L412.8 915.3L415.8 914.5L418.8 913.7L421.8 912.8L424.9 911.9L427.9 911L430.9 910.1L433.9 909.3L437 908.6L440 908L443 907.4L446 906.7L449.1 906.1L452.1 905.6L455.1 905L458.1 904.5L461.2 903.9L464.2 903.5L467.2 903L470.2 902.6L473.3 902.3L476.3 902L479.3 901.7L482.3 901.4L485.4 901.1L488.4 900.9L491.4 900.6L494.4 900.5L497.5 900.4L500.5 900.3L503.5 900.4L506.5 900.6L509.6 901L512.6 901.4L515.6 902L518.6 902.7L521.7 903.4L524.7 904.1L527.7 904.9L530.7 905.8L533.8 907L536.8 908.3L539.8 909.7L542.8 911.2L545.9 912.6L548.9 913.9L551.9 915.3L554.9 916.8L558 918.4L561 920.1L564 922.2L567 924.4L570.1 926.7L573.1 928.7L576.1 930.7L579.2 932.7L582.2 934.5L585.2 936.2L588.2 937.6L591.3 939.1L594.3 940.3L597.3 941.3L600.3 942.1L603.4 942.8L606.4 943.4L609.4 943.8L612.4 943.8L615.5 943.7L618.5 943.7L621.5 943.6L624.5 943.4L627.6 943L630.6 942.5L633.6 941.9L636.6 941.1L639.7 940.2L642.7 939L645.7 937.6L648.7 936L651.8 934.3L654.8 932.5L657.8 930.7L660.8 928.9L663.9 927L666.9 925L669.9 922.8L672.9 920.6L676 918.3L679 916.1L682 913.9L685 911.9L688.1 910L691.1 908.1L694.1 906.1L697.1 904.2L700.2 902.4L703.2 900.7L706.2 899.2L709.2 897.9L712.3 896.9L715.3 896.1L718.3 895.4L721.3 894.7L724.4 894.1L727.4 893.5L730.4 893L733.4 892.6L736.5 892.1L739.5 891.7L739.5 905.2L736.5 905.6L733.4 906.1L730.4 906.5L727.4 907L724.4 907.6L721.3 908.2L718.3 908.9L715.3 909.6L712.3 910.4L709.2 911.4L706.2 912.7L703.2 914.2L700.2 915.9L697.1 917.7L694.1 919.6L691.1 921.6L688.1 923.5L685 925.4L682 927.4L679 929.6L676 931.8L672.9 934.1L669.9 936.3L666.9 938.5L663.9 940.5L660.8 942.4L657.8 944.2L654.8 946L651.8 947.8L648.7 949.5L645.7 951.1L642.7 952.5L639.7 953.7L636.6 954.6L633.6 955.4L630.6 956L627.6 956.5L624.5 956.9L621.5 957.1L618.5 957.2L615.5 957.2L612.4 957.3L609.4 957.3L606.4 956.9L603.4 956.3L600.3 955.6L597.3 954.8L594.3 953.8L591.3 952.6L588.2 951.1L585.2 949.7L582.2 948L579.2 946.2L576.1 944.2L573.1 942.2L570.1 940.2L567 937.9L564 935.7L561 933.6L558 931.9L554.9 930.3L551.9 928.8L548.9 927.4L545.9 926.1L542.8 924.7L539.8 923.2L536.8 921.8L533.8 920.5L530.7 919.3L527.7 918.4L524.7 917.6L521.7 916.9L518.6 916.2L515.6 915.5L512.6 914.9L509.6 914.5L506.5 914.1L503.5 913.9L500.5 913.8L497.5 913.9L494.4 914L491.4 914.1L488.4 914.4L485.4 914.6L482.3 914.9L479.3 915.2L476.3 915.5L473.3 915.8L470.2 916.1L467.2 916.5L464.2 917L461.2 917.4L458.1 918L455.1 918.5L452.1 919.1L449.1 919.6L446 920.2L443 920.9L440 921.5L437 922.1L433.9 922.8L430.9 923.6L427.9 924.5L424.9 925.4L421.8 926.3L418.8 927.2L415.8 928L412.8 928.8L409.7 929.6L406.7 930.2Z" fill="#f27fc4"/>
<rect x="-5.5" y="-5.5" width="10.9" height="11.1" rx="1.5" fill="#f798d4" transform="translate(397.9,925.1) rotate(-10)"/>
<circle cx="397.9" cy="925.1" r="1.1" fill="#f271ba"/>
<rect x="-5.5" y="-5.5" width="10.9" height="11.1" rx="1.5" fill="#f798d4" transform="translate(410.1,922.7) rotate(-12.8)"/>
<circle cx="410.1" cy="922.7" r="1.1" fill="#f271ba"/>
<rect x="-5.5" y="-5.5" width="10.9" height="11.1" rx="1.5" fill="#f798d4" transform="translate(422.2,919.4) rotate(-16.6)"/>
<circle cx="422.2" cy="919.4" r="1.1" fill="#f271ba"/>
<rect x="-5.5" y="-5.5" width="10.9" height="11.1" rx="1.5" fill="#f798d4" transform="translate(434.2,916) rotate(-14)"/>
<circle cx="434.2" cy="916" r="1.1" fill="#f271ba"/>
<rect x="-5.5" y="-5.5" width="10.9" height="11.1" rx="1.5" fill="#e63e98" transform="translate(446.4,913.4) rotate(-11.4)"/>
<circle cx="446.4" cy="913.4" r="2.2" fill="#b5106c"/>
<rect x="-5.5" y="-5.5" width="10.9" height="11.1" rx="1.5" fill="#f798d4" transform="translate(458.7,911.1) rotate(-9.7)"/>
<circle cx="458.7" cy="911.1" r="1.1" fill="#f271ba"/>
<rect x="-5.5" y="-5.5" width="10.9" height="11.1" rx="1.5" fill="#f798d4" transform="translate(471.1,909.3) rotate(-6.8)"/>
<circle cx="471.1" cy="909.3" r="1.1" fill="#f271ba"/>
<rect x="-5.5" y="-5.5" width="10.9" height="11.1" rx="1.5" fill="#f798d4" transform="translate(483.5,908) rotate(-5.3)"/>
<circle cx="483.5" cy="908" r="1.1" fill="#f271ba"/>
<rect x="-5.5" y="-5.5" width="10.9" height="11.1" rx="1.5" fill="#f798d4" transform="translate(496,907.2) rotate(-2.2)"/>
<circle cx="496" cy="907.2" r="1.1" fill="#f271ba"/>
<rect x="-5.5" y="-5.5" width="10.9" height="11.1" rx="1.5" fill="#f798d4" transform="translate(508.5,907.6) rotate(7.3)"/>
<circle cx="508.5" cy="907.6" r="1.1" fill="#f271ba"/>
<rect x="-5.5" y="-5.5" width="10.9" height="11.1" rx="1.5" fill="#f798d4" transform="translate(520.7,909.9) rotate(13.3)"/>
<circle cx="520.7" cy="909.9" r="1.1" fill="#f271ba"/>
<rect x="-5.5" y="-5.5" width="10.9" height="11.1" rx="1.5" fill="#f798d4" transform="translate(532.7,913.3) rotate(21.4)"/>
<circle cx="532.7" cy="913.3" r="1.1" fill="#f271ba"/>
<rect x="-5.5" y="-5.5" width="10.9" height="11.1" rx="1.5" fill="#e63e98" transform="translate(544.1,918.5) rotate(25.3)"/>
<circle cx="544.1" cy="918.5" r="2.2" fill="#b5106c"/>
<rect x="-5.5" y="-5.5" width="10.9" height="11.1" rx="1.5" fill="#f798d4" transform="translate(555.4,923.8) rotate(26.7)"/>
<circle cx="555.4" cy="923.8" r="1.1" fill="#f271ba"/>
<rect x="-5.5" y="-5.5" width="10.9" height="11.1" rx="1.5" fill="#f798d4" transform="translate(566,930.4) rotate(36.9)"/>
<circle cx="566" cy="930.4" r="1.1" fill="#f271ba"/>
<rect x="-5.5" y="-5.5" width="10.9" height="11.1" rx="1.5" fill="#f798d4" transform="translate(576.3,937.6) rotate(33.3)"/>
<circle cx="576.3" cy="937.6" r="1.1" fill="#f271ba"/>
<rect x="-5.5" y="-5.5" width="10.9" height="11.1" rx="1.5" fill="#f798d4" transform="translate(587.1,943.8) rotate(26.2)"/>
<circle cx="587.1" cy="943.8" r="1.1" fill="#f271ba"/>
<rect x="-5.5" y="-5.5" width="10.9" height="11.1" rx="1.5" fill="#f798d4" transform="translate(598.7,948.4) rotate(14.5)"/>
<circle cx="598.7" cy="948.4" r="1.1" fill="#f271ba"/>
<rect x="-5.5" y="-5.5" width="10.9" height="11.1" rx="1.5" fill="#e63e98" transform="translate(610.9,950.5) rotate(0.2)"/>
<circle cx="610.9" cy="950.5" r="2.2" fill="#b5106c"/>
<rect x="-5.5" y="-5.5" width="10.9" height="11.1" rx="1.5" fill="#f798d4" transform="translate(623.4,950.2) rotate(-3.2)"/>
<circle cx="623.4" cy="950.2" r="1.1" fill="#f271ba"/>
<rect x="-5.5" y="-5.5" width="10.9" height="11.1" rx="1.5" fill="#f798d4" transform="translate(635.7,948.1) rotate(-13.7)"/>
<circle cx="635.7" cy="948.1" r="1.1" fill="#f271ba"/>
<rect x="-5.5" y="-5.5" width="10.9" height="11.1" rx="1.5" fill="#f798d4" transform="translate(647.3,943.5) rotate(-27.8)"/>
<circle cx="647.3" cy="943.5" r="1.1" fill="#f271ba"/>
<rect x="-5.5" y="-5.5" width="10.9" height="11.1" rx="1.5" fill="#f798d4" transform="translate(658.1,937.2) rotate(-31)"/>
<circle cx="658.1" cy="937.2" r="1.1" fill="#f271ba"/>
<rect x="-5.5" y="-5.5" width="10.9" height="11.1" rx="1.5" fill="#f798d4" transform="translate(668.7,930.5) rotate(-35.6)"/>
<circle cx="668.7" cy="930.5" r="1.1" fill="#f271ba"/>
<rect x="-5.5" y="-5.5" width="10.9" height="11.1" rx="1.5" fill="#f798d4" transform="translate(678.7,923.1) rotate(-36.3)"/>
<circle cx="678.7" cy="923.1" r="1.1" fill="#f271ba"/>
<rect x="-5.5" y="-5.5" width="10.9" height="11.1" rx="1.5" fill="#f798d4" transform="translate(689.1,916.1) rotate(-32.3)"/>
<circle cx="689.1" cy="916.1" r="1.1" fill="#f271ba"/>
<rect x="-5.5" y="-5.5" width="10.9" height="11.1" rx="1.5" fill="#f798d4" transform="translate(699.7,909.5) rotate(-30.5)"/>
<circle cx="699.7" cy="909.5" r="1.1" fill="#f271ba"/>
<rect x="-5.5" y="-5.5" width="10.9" height="11.1" rx="1.5" fill="#e63e98" transform="translate(710.9,904.1) rotate(-18.1)"/>
<circle cx="710.9" cy="904.1" r="2.2" fill="#b5106c"/>
<rect x="-5.5" y="-5.5" width="10.9" height="11.1" rx="1.5" fill="#f798d4" transform="translate(723.1,901.1) rotate(-11.2)"/>
<circle cx="723.1" cy="901.1" r="1.1" fill="#f271ba"/>
<rect x="-5.5" y="-5.5" width="10.9" height="11.1" rx="1.5" fill="#f798d4" transform="translate(735.4,899) rotate(-8.3)"/>
<circle cx="735.4" cy="899" r="1.1" fill="#f271ba"/>
<rect x="-5.5" y="-5.5" width="10.9" height="11.1" rx="1.5" fill="#f798d4" transform="translate(747.8,897.5) rotate(-5.7)"/>
<circle cx="747.8" cy="897.5" r="1.1" fill="#f271ba"/>
<rect x="739.5" y="749" width="10" height="242.5" fill="#fff"/>
</g>
<rect x="408.7" y="749" width="335.6" height="243.2" rx="10" fill="none" stroke="url(#pf)" stroke-width="4.6"/>
<text x="210.500" y="1040.500" font-size="26" letter-spacing="0.9" font-weight="500" fill="#111" text-anchor="middle">胶原蛋白流失前</text>
<text x="584.700" y="1040.500" font-size="26" letter-spacing="0.9" font-weight="500" fill="#111" text-anchor="middle">胶原蛋白流失后</text>
<text x="225.700" y="1238.500" font-weight="400" fill="#111"><tspan font-size="35" dy="-3.900">—</tspan><tspan font-size="43" dx="2.500" dy="3.900">营养知识科普</tspan><tspan font-size="35" dx="4.800" dy="-3.900">—</tspan></text>
<text x="392" y="1337" font-size="44" font-weight="700" fill="#fff" text-anchor="middle">胶原蛋白是什么</text>
</svg></body></html>
